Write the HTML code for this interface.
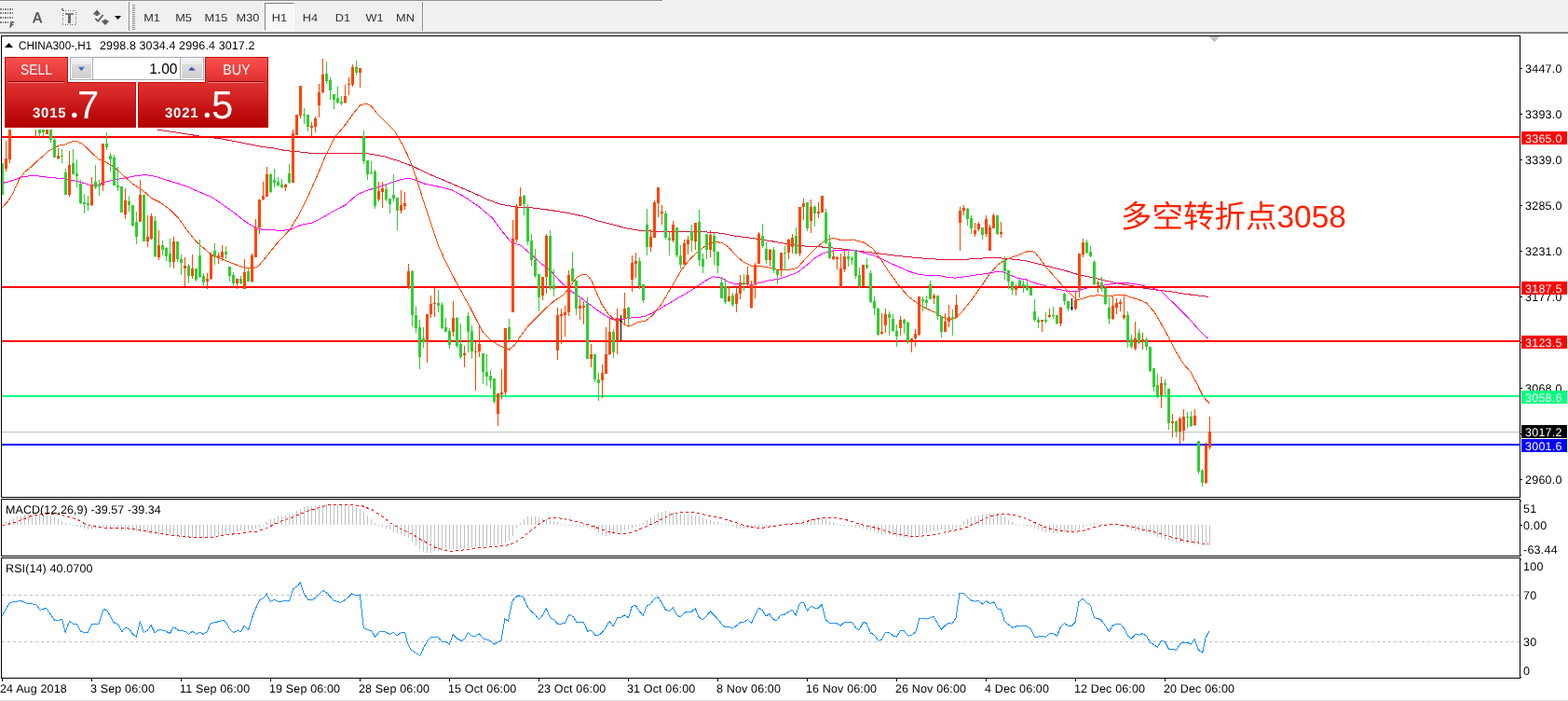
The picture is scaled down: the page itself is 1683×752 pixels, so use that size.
<!DOCTYPE html>
<html><head><meta charset="utf-8"><title>chart</title>
<style>
html,body{margin:0;padding:0;background:#fff;}
body{width:1683px;height:752px;position:relative;overflow:hidden;font-family:"Liberation Sans",sans-serif;text-rendering:geometricPrecision;}
#ch{position:absolute;left:0;top:0;}
.t{position:absolute;font-size:12.5px;line-height:14px;height:14px;color:#000;white-space:nowrap;}
.pl{position:absolute;left:1633px;width:49px;height:14px;font-size:12.5px;line-height:16px;color:#fff;text-indent:4px;letter-spacing:.25px;white-space:nowrap;overflow:hidden;}
#tb{position:absolute;left:0;top:0;width:1683px;height:33px;background:#f0f0f0;}
.tf{will-change:transform;position:absolute;top:13px;width:40px;text-align:center;font-size:11.7px;line-height:14px;color:#303030;transform:scaleX(1.09);}
#h1{position:absolute;left:284px;top:3px;width:30px;height:28px;border:1px solid #fff;border-top-color:#828282;border-left-color:#828282;background:#f8f8f8;}

.tab{position:absolute;top:0;height:28px;text-align:center;color:#fff;font-size:15.5px;line-height:30px;}
.tab span{display:inline-block;}
.box{position:absolute;top:27px;height:49px;color:#fff;}
.box b{position:absolute;top:26px;font-size:15px;line-height:15px;font-weight:bold;letter-spacing:.75px;}
.box u{position:absolute;top:3.5px;font-size:42px;line-height:42px;text-decoration:none;}
#spin{position:absolute;left:70px;top:0;width:142px;height:23px;border:1px solid #a3a8b4;background:#fff;box-sizing:content-box;}
#spin i{position:absolute;top:0;width:1px;height:23px;background:#a3a8b4;}
.sb{position:absolute;top:1px;width:21px;height:21px;background:linear-gradient(#f3f3f3,#ebebeb 28%,#dddddd 29%,#cfcfcf);}
#vol{position:absolute;right:27.5px;top:4.5px;font-size:15.6px;line-height:16px;color:#000;}

.sep{position:absolute;top:2px;width:1px;height:32px;background:#8a8a8a;box-shadow:1px 0 0 #fafafa;}
</style></head><body>
<div id="tb">
<div style="position:absolute;left:0;top:0;width:712px;height:2px;background:#fcfcfc"></div><div style="position:absolute;left:0;top:0;width:711px;height:1px;background:#8e8e8e"></div>
<div class="sep" style="left:138px"></div><div class="sep" style="left:453px"></div>
<div id="h1"></div>
<div class="tf" style="left:143px">M1</div><div class="tf" style="left:177px">M5</div><div class="tf" style="left:211.7px">M15</div><div class="tf" style="left:245.5px">M30</div><div class="tf" style="left:280px">H1</div><div class="tf" style="left:313px">H4</div><div class="tf" style="left:348px">D1</div><div class="tf" style="left:382.4px">W1</div><div class="tf" style="left:415.2px">MN</div>

<svg style="position:absolute;left:0;top:0" width="140" height="33" shape-rendering="crispEdges">
 <g stroke="#808080" stroke-width="2" stroke-dasharray="2 1 1 1">
  <line x1="0" x2="14" y1="10" y2="10"/><line x1="0" x2="14" y1="14" y2="14"/><line x1="0" x2="14" y1="19" y2="19"/><line x1="0" x2="9" y1="24" y2="24"/>
 </g>
 <g stroke="#6a6a6a" stroke-width="1" stroke-dasharray="1 1.5" fill="none"><rect x="67.5" y="11.5" width="14" height="15"/></g>
 <g fill="#6e6e6e">
  <rect x="66" y="9" width="2" height="2"/>
  <rect x="70" y="14" width="9" height="2" fill="#808080"/><rect x="73" y="15" width="3" height="10"/>
 </g>
 <g shape-rendering="auto" fill="#585858">
  <path d="M10.3,29.6 L11.4,23 L15.3,23 L15,24.6 L13,24.6 L12.8,25.8 L14.6,25.8 L14.3,27.3 L12.5,27.3 L12.1,29.6 Z"/>
  <path d="M34.9,24.6 L39.1,12.9 L41.3,12.9 L45.4,24.6 L43.2,24.6 L42.3,21.8 L38,21.8 L37.1,24.6 Z M38.6,20 L41.7,20 L40.2,15.2 Z" fill-rule="evenodd"/>
  <polygon points="99.7,15.6 104,10.4 108.2,15.6"/><rect x="102.5" y="15.4" width="3" height="1.6"/>
  <polygon points="108.5,22.3 112.9,26.9 117.3,22.3"/><rect x="111.3" y="20.8" width="3.2" height="1.7"/>
  <path d="M102.3,19.9 L105.2,22.8 L110.6,15.9" fill="none" stroke="#585858" stroke-width="1.7"/>
  <polygon points="123,17.1 130.1,17.1 126.55,20.9" fill="#000"/>
 </g>
</svg>
<svg style="position:absolute;left:141px;top:4px" width="5" height="29" shape-rendering="crispEdges"><g fill="#8e8e8e"><rect x="1" y="1" width="3" height="1"/><rect x="1" y="3" width="3" height="1"/><rect x="1" y="5" width="3" height="1"/><rect x="1" y="7" width="3" height="1"/><rect x="1" y="9" width="3" height="1"/><rect x="1" y="11" width="3" height="1"/><rect x="1" y="13" width="3" height="1"/><rect x="1" y="15" width="3" height="1"/><rect x="1" y="17" width="3" height="1"/><rect x="1" y="19" width="3" height="1"/><rect x="1" y="21" width="3" height="1"/><rect x="1" y="23" width="3" height="1"/><rect x="1" y="25" width="3" height="1"/><rect x="1" y="27" width="3" height="1"/></g></svg>

</div>
<div style="position:absolute;left:0;top:33px;width:1683px;height:1px;background:#f6f6f6"></div>
<div style="position:absolute;left:0;top:34px;width:1683px;height:1px;background:#a2a2a2"></div>
<div style="position:absolute;left:0;top:35px;width:1683px;height:1px;background:#696969"></div>
<svg id="ch" width="1683" height="752" viewBox="0 0 1683 752" shape-rendering="crispEdges"><rect x="1" y="38" width="1631" height="1" fill="#000"/>
<rect x="1" y="533" width="1631" height="1" fill="#000"/>
<rect x="1" y="38" width="1" height="496" fill="#000"/>
<rect x="1631" y="38" width="1" height="496" fill="#000"/>
<rect x="1" y="535" width="1631" height="1" fill="#000"/>
<rect x="1" y="596" width="1631" height="1" fill="#000"/>
<rect x="1" y="535" width="1" height="62" fill="#000"/>
<rect x="1631" y="535" width="1" height="62" fill="#000"/>
<rect x="1" y="598" width="1631" height="1" fill="#000"/>
<rect x="1" y="727" width="1631" height="1" fill="#000"/>
<rect x="1" y="598" width="1" height="130" fill="#000"/>
<rect x="1631" y="598" width="1" height="130" fill="#000"/>
<rect x="2" y="463" width="1629" height="1" fill="#c0c0c0"/>
<polyline points="168.8,139.1 191.5,142.4 215.4,146.3 239.4,149.2 263.3,153.9 280.0,157.3 294.4,159.0 306.3,161.6 320.7,162.8 335.1,164.5 351.8,164.5 375.8,164.5 380.0,164.4 394.4,164.8 411.1,167.5 427.9,172.7 442.2,178.0 461.4,187.1 475.8,193.1 492.5,200.3 509.3,207.5 523.6,214.2 538.0,219.4 552.4,221.8 571.5,223.0 590.7,225.4 609.8,228.5 629.0,232.6 643.3,237.4 657.7,241.0 674.4,245.3 688.8,247.7 700.8,248.1 727.1,248.1 753.4,248.6 760.0,249.1 774.4,250.3 788.7,253.1 807.9,255.5 827.0,258.6 846.2,261.8 865.3,264.2 884.5,265.1 903.6,267.0 922.8,269.4 941.9,271.8 961.1,274.2 980.2,276.1 999.4,277.8 1013.7,278.5 1025.7,279.0 1042.5,277.8 1061.6,276.6 1078.4,277.1 1095.1,279.0 1100.0,279.5 1114.4,283.1 1128.7,286.7 1143.1,290.3 1157.5,294.6 1171.8,297.5 1186.2,301.0 1200.5,304.2 1214.9,306.5 1229.3,309.4 1243.6,311.3 1258.0,313.0 1272.4,315.4 1286.7,317.1 1297.5,318.5" fill="none" stroke="#dc143c" stroke-width="1" />
<polyline points="2.4,196.5 12.0,194.2 23.9,189.8 35.9,188.2 47.9,189.8 59.8,191.0 71.8,192.2 83.8,194.6 95.8,198.2 105.3,198.2 114.9,194.6 124.5,192.7 134.1,191.0 143.6,189.1 155.6,187.5 167.6,189.4 179.5,193.4 191.5,197.0 203.5,201.3 215.4,206.6 227.4,211.4 239.4,219.8 251.3,228.1 263.3,237.7 272.9,243.7 282.5,246.6 292.0,246.8 301.6,247.3 311.2,246.6 323.2,241.3 335.1,238.9 347.1,232.9 359.1,225.8 371.0,219.8 383.0,209.0 392.6,204.7 403.9,201.5 418.3,196.7 430.3,192.6 439.8,191.2 447.0,193.6 456.6,197.4 471.0,200.3 485.3,203.9 499.7,211.8 514.1,221.8 528.4,233.8 538.0,246.9 547.6,258.9 559.5,263.7 569.1,272.1 581.1,282.9 591.8,291.2 602.6,303.2 613.4,312.7 624.2,319.9 633.7,327.1 643.3,334.3 652.9,340.3 658.9,343.1 667.3,342.7 679.2,340.7 691.2,339.8 700.8,335.5 715.1,327.1 729.5,318.7 743.9,310.3 755.8,302.0 765.4,296.7 775.0,298.4 781.5,302.5 788.7,304.6 798.3,304.6 807.9,305.3 817.5,302.9 827.0,300.5 836.6,299.3 846.2,295.8 855.8,292.2 865.3,285.0 874.9,276.6 884.5,271.3 894.1,268.9 903.6,268.2 915.6,268.2 927.6,271.3 937.1,273.7 946.7,277.8 956.3,282.6 965.9,286.7 975.4,291.0 985.0,294.1 994.6,295.3 1009.0,295.8 1018.5,297.7 1025.7,298.1 1035.3,296.9 1047.3,295.0 1059.2,293.4 1068.8,291.7 1076.0,291.4 1083.2,294.6 1092.7,298.6 1100.0,299.4 1109.6,303.4 1121.5,306.5 1133.5,309.9 1145.5,312.3 1155.1,313.0 1164.6,309.4 1176.6,307.5 1186.2,305.8 1195.8,304.2 1205.3,303.4 1214.9,304.2 1224.5,305.8 1234.1,308.2 1246.0,311.8 1255.6,321.4 1267.6,332.9 1277.1,342.9 1286.7,353.7 1293.9,360.9 1297.5,363.3" fill="none" stroke="#ff00ff" stroke-width="1" />
<polyline points="1.3,223.7 8.0,216.4 13.3,208.4 19.9,193.8 26.6,184.5 33.2,179.2 39.9,172.8 46.5,167.2 51.9,162.2 59.8,157.7 65.2,155.5 70.5,155.0 74.5,152.9 78.4,151.3 82.4,151.9 87.8,153.9 93.1,158.6 99.7,165.2 106.4,171.2 111.7,172.8 117.0,175.9 122.3,179.2 127.6,183.8 133.0,189.2 134.1,189.8 143.6,198.2 153.2,204.2 162.8,212.6 172.4,217.4 181.9,224.6 191.5,234.1 201.1,247.3 210.7,259.3 220.2,267.6 227.4,273.6 239.4,278.4 251.3,283.2 263.3,287.5 271.7,288.0 277.7,285.1 287.3,273.6 296.8,261.7 311.2,246.1 320.8,230.5 330.3,211.4 339.9,189.8 349.5,167.1 359.0,147.7 371.0,133.4 380.5,120.2 386.5,113.0 393.7,111.1 398.5,113.7 404.5,121.4 414.1,131.0 423.6,140.5 433.2,157.3 440.4,172.9 447.6,193.2 455.9,220.0 461.4,236.2 471.0,264.9 480.5,285.2 492.5,308.0 504.5,329.5 511.7,343.9 518.8,357.0 526.0,364.2 533.2,369.0 540.4,372.6 546.4,375.0 552.4,370.2 559.5,359.4 566.7,349.8 576.3,340.3 585.9,330.7 595.4,322.3 605.0,316.3 613.4,305.6 619.4,297.2 625.4,294.1 630.1,294.8 634.9,300.8 639.7,312.7 645.7,325.9 652.9,336.7 658.9,342.2 666.1,343.9 670.8,348.6 674.4,350.3 679.2,348.6 685.2,345.5 693.6,343.9 700.8,337.9 710.3,325.9 719.9,309.2 727.1,297.2 731.9,288.8 741.5,276.9 751.0,268.5 760.6,261.3 767.8,259.4 775.0,260.6 781.5,264.6 788.7,273.0 798.3,281.4 807.9,285.7 817.5,285.7 827.0,287.4 836.6,289.8 846.2,289.8 855.8,287.4 865.3,276.6 874.9,267.0 884.5,258.6 894.1,255.1 903.6,257.9 915.6,257.0 927.6,260.3 937.1,267.0 946.7,280.2 956.3,294.6 965.9,307.7 975.4,318.5 985.0,325.7 994.6,331.2 1004.2,335.2 1011.3,340.0 1018.5,343.1 1025.7,341.2 1032.9,334.1 1042.5,322.1 1052.0,308.9 1061.6,294.6 1071.2,283.8 1078.4,279.0 1087.9,275.4 1097.5,271.8 1100.0,270.6 1106.0,269.2 1110.8,270.6 1116.8,278.3 1123.9,287.9 1133.5,298.6 1143.1,309.4 1150.3,316.6 1156.3,321.9 1162.2,320.2 1169.4,317.8 1179.0,316.6 1188.6,317.8 1198.1,316.6 1206.5,316.1 1212.5,318.5 1222.1,321.4 1230.5,325.0 1238.8,334.6 1246.0,346.5 1253.2,359.7 1260.4,374.1 1267.6,386.0 1270.0,390.0 1277.7,398.6 1284.4,411.1 1290.1,422.6 1293.9,428.3 1297.8,432.5" fill="none" stroke="#ff4500" stroke-width="1" />
<rect x="2" y="146" width="1629" height="2" fill="#ff0000"/>
<rect x="2" y="307" width="1629" height="2" fill="#ff0000"/>
<rect x="2" y="365" width="1629" height="2" fill="#ff0000"/>
<rect x="2" y="424" width="1629" height="2" fill="#00ff7f"/>
<rect x="2" y="476" width="1629" height="2" fill="#0000ff"/>
<rect x="2" y="175" width="1" height="34" fill="#32cd32"/>
<rect x="1" y="175" width="3" height="34" fill="#32cd32"/>
<rect x="6" y="151" width="1" height="33" fill="#ff4500"/>
<rect x="5" y="170" width="3" height="11" fill="#ff4500"/>
<rect x="10" y="137" width="1" height="38" fill="#ff4500"/>
<rect x="9" y="137" width="3" height="34" fill="#ff4500"/>
<rect x="38" y="139" width="1" height="8" fill="#ff4500"/>
<rect x="42" y="139" width="1" height="8" fill="#32cd32"/>
<rect x="41" y="139" width="3" height="4" fill="#32cd32"/>
<rect x="46" y="139" width="1" height="7" fill="#32cd32"/>
<rect x="45" y="139" width="3" height="3" fill="#32cd32"/>
<rect x="50" y="139" width="1" height="5" fill="#ff4500"/>
<rect x="49" y="139" width="3" height="5" fill="#ff4500"/>
<rect x="54" y="139" width="1" height="14" fill="#32cd32"/>
<rect x="53" y="139" width="3" height="11" fill="#32cd32"/>
<rect x="58" y="147" width="1" height="22" fill="#32cd32"/>
<rect x="57" y="150" width="3" height="19" fill="#32cd32"/>
<rect x="62" y="159" width="1" height="12" fill="#ff4500"/>
<rect x="61" y="167" width="3" height="3" fill="#ff4500"/>
<rect x="66" y="160" width="1" height="15" fill="#32cd32"/>
<rect x="65" y="167" width="3" height="1" fill="#32cd32"/>
<rect x="70" y="181" width="1" height="28" fill="#32cd32"/>
<rect x="69" y="185" width="3" height="24" fill="#32cd32"/>
<rect x="74" y="162" width="1" height="49" fill="#ff4500"/>
<rect x="73" y="177" width="3" height="32" fill="#ff4500"/>
<rect x="78" y="160" width="1" height="27" fill="#32cd32"/>
<rect x="77" y="175" width="3" height="12" fill="#32cd32"/>
<rect x="82" y="171" width="1" height="30" fill="#32cd32"/>
<rect x="81" y="186" width="3" height="3" fill="#32cd32"/>
<rect x="86" y="193" width="1" height="26" fill="#32cd32"/>
<rect x="85" y="197" width="3" height="21" fill="#32cd32"/>
<rect x="90" y="208" width="1" height="21" fill="#32cd32"/>
<rect x="89" y="217" width="3" height="2" fill="#32cd32"/>
<rect x="94" y="210" width="1" height="16" fill="#32cd32"/>
<rect x="93" y="218" width="3" height="2" fill="#32cd32"/>
<rect x="98" y="190" width="1" height="31" fill="#ff4500"/>
<rect x="97" y="198" width="3" height="22" fill="#ff4500"/>
<rect x="102" y="177" width="1" height="26" fill="#32cd32"/>
<rect x="101" y="195" width="3" height="6" fill="#32cd32"/>
<rect x="106" y="193" width="1" height="17" fill="#32cd32"/>
<rect x="105" y="198" width="3" height="2" fill="#32cd32"/>
<rect x="110" y="154" width="1" height="51" fill="#ff4500"/>
<rect x="109" y="154" width="3" height="45" fill="#ff4500"/>
<rect x="114" y="142" width="1" height="19" fill="#32cd32"/>
<rect x="113" y="154" width="3" height="4" fill="#32cd32"/>
<rect x="118" y="164" width="1" height="20" fill="#32cd32"/>
<rect x="117" y="167" width="3" height="4" fill="#32cd32"/>
<rect x="122" y="166" width="1" height="33" fill="#32cd32"/>
<rect x="121" y="169" width="3" height="30" fill="#32cd32"/>
<rect x="126" y="179" width="1" height="26" fill="#32cd32"/>
<rect x="125" y="199" width="3" height="2" fill="#32cd32"/>
<rect x="130" y="200" width="1" height="28" fill="#32cd32"/>
<rect x="129" y="200" width="3" height="28" fill="#32cd32"/>
<rect x="134" y="202" width="1" height="33" fill="#ff4500"/>
<rect x="133" y="215" width="3" height="15" fill="#ff4500"/>
<rect x="138" y="210" width="1" height="17" fill="#32cd32"/>
<rect x="137" y="216" width="3" height="4" fill="#32cd32"/>
<rect x="142" y="220" width="1" height="23" fill="#32cd32"/>
<rect x="141" y="220" width="3" height="22" fill="#32cd32"/>
<rect x="146" y="227" width="1" height="35" fill="#32cd32"/>
<rect x="145" y="238" width="3" height="16" fill="#32cd32"/>
<rect x="150" y="193" width="1" height="45" fill="#ff4500"/>
<rect x="149" y="209" width="3" height="29" fill="#ff4500"/>
<rect x="154" y="209" width="1" height="50" fill="#32cd32"/>
<rect x="153" y="209" width="3" height="50" fill="#32cd32"/>
<rect x="158" y="231" width="1" height="34" fill="#ff4500"/>
<rect x="157" y="254" width="3" height="5" fill="#ff4500"/>
<rect x="162" y="229" width="1" height="28" fill="#ff4500"/>
<rect x="161" y="232" width="3" height="24" fill="#ff4500"/>
<rect x="166" y="232" width="1" height="44" fill="#32cd32"/>
<rect x="165" y="237" width="3" height="38" fill="#32cd32"/>
<rect x="170" y="247" width="1" height="32" fill="#ff4500"/>
<rect x="169" y="263" width="3" height="13" fill="#ff4500"/>
<rect x="174" y="258" width="1" height="16" fill="#32cd32"/>
<rect x="173" y="263" width="3" height="5" fill="#32cd32"/>
<rect x="178" y="265" width="1" height="15" fill="#32cd32"/>
<rect x="177" y="266" width="3" height="9" fill="#32cd32"/>
<rect x="182" y="256" width="1" height="31" fill="#32cd32"/>
<rect x="181" y="272" width="3" height="9" fill="#32cd32"/>
<rect x="186" y="254" width="1" height="34" fill="#ff4500"/>
<rect x="185" y="259" width="3" height="22" fill="#ff4500"/>
<rect x="190" y="259" width="1" height="22" fill="#32cd32"/>
<rect x="189" y="259" width="3" height="19" fill="#32cd32"/>
<rect x="194" y="273" width="1" height="22" fill="#32cd32"/>
<rect x="193" y="278" width="3" height="4" fill="#32cd32"/>
<rect x="198" y="276" width="1" height="31" fill="#ff4500"/>
<rect x="197" y="285" width="3" height="3" fill="#ff4500"/>
<rect x="202" y="283" width="1" height="21" fill="#32cd32"/>
<rect x="201" y="285" width="3" height="11" fill="#32cd32"/>
<rect x="206" y="273" width="1" height="26" fill="#ff4500"/>
<rect x="205" y="288" width="3" height="8" fill="#ff4500"/>
<rect x="210" y="288" width="1" height="14" fill="#32cd32"/>
<rect x="209" y="288" width="3" height="12" fill="#32cd32"/>
<rect x="214" y="257" width="1" height="41" fill="#32cd32"/>
<rect x="213" y="274" width="3" height="23" fill="#32cd32"/>
<rect x="218" y="293" width="1" height="15" fill="#32cd32"/>
<rect x="217" y="296" width="3" height="7" fill="#32cd32"/>
<rect x="222" y="293" width="1" height="17" fill="#ff4500"/>
<rect x="221" y="299" width="3" height="3" fill="#ff4500"/>
<rect x="226" y="271" width="1" height="29" fill="#ff4500"/>
<rect x="225" y="273" width="3" height="26" fill="#ff4500"/>
<rect x="230" y="261" width="1" height="23" fill="#32cd32"/>
<rect x="229" y="269" width="3" height="7" fill="#32cd32"/>
<rect x="234" y="271" width="1" height="12" fill="#ff4500"/>
<rect x="233" y="274" width="3" height="3" fill="#ff4500"/>
<rect x="238" y="263" width="1" height="17" fill="#ff4500"/>
<rect x="237" y="270" width="3" height="6" fill="#ff4500"/>
<rect x="242" y="264" width="1" height="14" fill="#32cd32"/>
<rect x="241" y="270" width="3" height="3" fill="#32cd32"/>
<rect x="246" y="286" width="1" height="16" fill="#32cd32"/>
<rect x="245" y="286" width="3" height="10" fill="#32cd32"/>
<rect x="250" y="292" width="1" height="16" fill="#32cd32"/>
<rect x="249" y="295" width="3" height="9" fill="#32cd32"/>
<rect x="254" y="299" width="1" height="11" fill="#ff4500"/>
<rect x="253" y="299" width="3" height="5" fill="#ff4500"/>
<rect x="258" y="296" width="1" height="9" fill="#32cd32"/>
<rect x="257" y="299" width="3" height="5" fill="#32cd32"/>
<rect x="262" y="278" width="1" height="32" fill="#ff4500"/>
<rect x="261" y="292" width="3" height="18" fill="#ff4500"/>
<rect x="266" y="287" width="1" height="15" fill="#32cd32"/>
<rect x="265" y="291" width="3" height="11" fill="#32cd32"/>
<rect x="270" y="272" width="1" height="31" fill="#ff4500"/>
<rect x="269" y="274" width="3" height="28" fill="#ff4500"/>
<rect x="274" y="235" width="1" height="41" fill="#ff4500"/>
<rect x="273" y="244" width="3" height="32" fill="#ff4500"/>
<rect x="278" y="214" width="1" height="37" fill="#ff4500"/>
<rect x="277" y="214" width="3" height="30" fill="#ff4500"/>
<rect x="282" y="195" width="1" height="20" fill="#ff4500"/>
<rect x="281" y="210" width="3" height="4" fill="#ff4500"/>
<rect x="286" y="179" width="1" height="32" fill="#ff4500"/>
<rect x="285" y="187" width="3" height="24" fill="#ff4500"/>
<rect x="290" y="186" width="1" height="21" fill="#32cd32"/>
<rect x="289" y="187" width="3" height="19" fill="#32cd32"/>
<rect x="294" y="181" width="1" height="20" fill="#32cd32"/>
<rect x="293" y="193" width="3" height="3" fill="#32cd32"/>
<rect x="298" y="190" width="1" height="10" fill="#32cd32"/>
<rect x="297" y="195" width="3" height="4" fill="#32cd32"/>
<rect x="302" y="192" width="1" height="10" fill="#32cd32"/>
<rect x="301" y="198" width="3" height="3" fill="#32cd32"/>
<rect x="306" y="197" width="1" height="8" fill="#ff4500"/>
<rect x="305" y="198" width="3" height="3" fill="#ff4500"/>
<rect x="310" y="176" width="1" height="21" fill="#32cd32"/>
<rect x="309" y="186" width="3" height="10" fill="#32cd32"/>
<rect x="314" y="139" width="1" height="57" fill="#ff4500"/>
<rect x="313" y="143" width="3" height="53" fill="#ff4500"/>
<rect x="318" y="123" width="1" height="22" fill="#ff4500"/>
<rect x="317" y="123" width="3" height="22" fill="#ff4500"/>
<rect x="322" y="92" width="1" height="35" fill="#ff4500"/>
<rect x="321" y="92" width="3" height="32" fill="#ff4500"/>
<rect x="326" y="116" width="1" height="17" fill="#32cd32"/>
<rect x="325" y="123" width="3" height="1" fill="#32cd32"/>
<rect x="330" y="123" width="1" height="18" fill="#32cd32"/>
<rect x="329" y="123" width="3" height="13" fill="#32cd32"/>
<rect x="334" y="131" width="1" height="16" fill="#ff4500"/>
<rect x="333" y="135" width="3" height="2" fill="#ff4500"/>
<rect x="338" y="125" width="1" height="17" fill="#ff4500"/>
<rect x="337" y="127" width="3" height="9" fill="#ff4500"/>
<rect x="342" y="90" width="1" height="36" fill="#ff4500"/>
<rect x="341" y="99" width="3" height="14" fill="#ff4500"/>
<rect x="346" y="63" width="1" height="37" fill="#ff4500"/>
<rect x="345" y="80" width="3" height="19" fill="#ff4500"/>
<rect x="350" y="66" width="1" height="24" fill="#32cd32"/>
<rect x="349" y="79" width="3" height="8" fill="#32cd32"/>
<rect x="354" y="83" width="1" height="24" fill="#32cd32"/>
<rect x="353" y="86" width="3" height="11" fill="#32cd32"/>
<rect x="358" y="101" width="1" height="16" fill="#32cd32"/>
<rect x="357" y="101" width="3" height="6" fill="#32cd32"/>
<rect x="362" y="93" width="1" height="18" fill="#32cd32"/>
<rect x="361" y="105" width="3" height="5" fill="#32cd32"/>
<rect x="366" y="103" width="1" height="10" fill="#32cd32"/>
<rect x="365" y="109" width="3" height="2" fill="#32cd32"/>
<rect x="370" y="91" width="1" height="20" fill="#ff4500"/>
<rect x="369" y="103" width="3" height="7" fill="#ff4500"/>
<rect x="374" y="83" width="1" height="19" fill="#ff4500"/>
<rect x="373" y="90" width="3" height="1" fill="#ff4500"/>
<rect x="378" y="69" width="1" height="24" fill="#ff4500"/>
<rect x="377" y="72" width="3" height="19" fill="#ff4500"/>
<rect x="382" y="65" width="1" height="16" fill="#32cd32"/>
<rect x="381" y="72" width="3" height="6" fill="#32cd32"/>
<rect x="386" y="73" width="1" height="21" fill="#ff4500"/>
<rect x="385" y="73" width="3" height="5" fill="#ff4500"/>
<rect x="390" y="140" width="1" height="36" fill="#32cd32"/>
<rect x="389" y="146" width="3" height="27" fill="#32cd32"/>
<rect x="394" y="172" width="1" height="21" fill="#32cd32"/>
<rect x="393" y="172" width="3" height="15" fill="#32cd32"/>
<rect x="398" y="173" width="1" height="14" fill="#32cd32"/>
<rect x="397" y="185" width="3" height="1" fill="#32cd32"/>
<rect x="402" y="182" width="1" height="42" fill="#32cd32"/>
<rect x="401" y="184" width="3" height="37" fill="#32cd32"/>
<rect x="406" y="195" width="1" height="21" fill="#ff4500"/>
<rect x="405" y="205" width="3" height="9" fill="#ff4500"/>
<rect x="410" y="195" width="1" height="28" fill="#ff4500"/>
<rect x="409" y="202" width="3" height="4" fill="#ff4500"/>
<rect x="414" y="197" width="1" height="19" fill="#32cd32"/>
<rect x="413" y="203" width="3" height="11" fill="#32cd32"/>
<rect x="418" y="213" width="1" height="16" fill="#32cd32"/>
<rect x="417" y="213" width="3" height="6" fill="#32cd32"/>
<rect x="422" y="187" width="1" height="29" fill="#32cd32"/>
<rect x="421" y="209" width="3" height="4" fill="#32cd32"/>
<rect x="426" y="212" width="1" height="35" fill="#32cd32"/>
<rect x="425" y="212" width="3" height="14" fill="#32cd32"/>
<rect x="430" y="204" width="1" height="25" fill="#ff4500"/>
<rect x="429" y="220" width="3" height="6" fill="#ff4500"/>
<rect x="434" y="206" width="1" height="19" fill="#ff4500"/>
<rect x="433" y="218" width="3" height="3" fill="#ff4500"/>
<rect x="438" y="283" width="1" height="27" fill="#ff4500"/>
<rect x="437" y="291" width="3" height="18" fill="#ff4500"/>
<rect x="442" y="290" width="1" height="60" fill="#32cd32"/>
<rect x="441" y="291" width="3" height="47" fill="#32cd32"/>
<rect x="446" y="329" width="1" height="28" fill="#32cd32"/>
<rect x="445" y="338" width="3" height="14" fill="#32cd32"/>
<rect x="450" y="343" width="1" height="53" fill="#32cd32"/>
<rect x="449" y="351" width="3" height="32" fill="#32cd32"/>
<rect x="454" y="351" width="1" height="22" fill="#32cd32"/>
<rect x="453" y="363" width="3" height="4" fill="#32cd32"/>
<rect x="458" y="337" width="1" height="52" fill="#ff4500"/>
<rect x="457" y="337" width="3" height="30" fill="#ff4500"/>
<rect x="462" y="317" width="1" height="24" fill="#ff4500"/>
<rect x="461" y="326" width="3" height="11" fill="#ff4500"/>
<rect x="466" y="309" width="1" height="31" fill="#ff4500"/>
<rect x="465" y="325" width="3" height="1" fill="#ff4500"/>
<rect x="470" y="311" width="1" height="24" fill="#32cd32"/>
<rect x="469" y="325" width="3" height="3" fill="#32cd32"/>
<rect x="474" y="324" width="1" height="29" fill="#32cd32"/>
<rect x="473" y="327" width="3" height="25" fill="#32cd32"/>
<rect x="478" y="341" width="1" height="15" fill="#32cd32"/>
<rect x="477" y="351" width="3" height="5" fill="#32cd32"/>
<rect x="482" y="352" width="1" height="22" fill="#32cd32"/>
<rect x="481" y="355" width="3" height="15" fill="#32cd32"/>
<rect x="486" y="323" width="1" height="38" fill="#ff4500"/>
<rect x="485" y="341" width="3" height="15" fill="#ff4500"/>
<rect x="490" y="340" width="1" height="33" fill="#32cd32"/>
<rect x="489" y="341" width="3" height="30" fill="#32cd32"/>
<rect x="494" y="347" width="1" height="38" fill="#32cd32"/>
<rect x="493" y="369" width="3" height="14" fill="#32cd32"/>
<rect x="498" y="371" width="1" height="23" fill="#ff4500"/>
<rect x="497" y="379" width="3" height="2" fill="#ff4500"/>
<rect x="502" y="335" width="1" height="43" fill="#32cd32"/>
<rect x="501" y="339" width="3" height="17" fill="#32cd32"/>
<rect x="506" y="349" width="1" height="36" fill="#32cd32"/>
<rect x="505" y="355" width="3" height="22" fill="#32cd32"/>
<rect x="510" y="367" width="1" height="52" fill="#ff4500"/>
<rect x="509" y="377" width="3" height="1" fill="#ff4500"/>
<rect x="514" y="350" width="1" height="33" fill="#ff4500"/>
<rect x="513" y="369" width="3" height="8" fill="#ff4500"/>
<rect x="518" y="379" width="1" height="33" fill="#32cd32"/>
<rect x="517" y="379" width="3" height="20" fill="#32cd32"/>
<rect x="522" y="380" width="1" height="34" fill="#32cd32"/>
<rect x="521" y="399" width="3" height="5" fill="#32cd32"/>
<rect x="526" y="397" width="1" height="20" fill="#32cd32"/>
<rect x="525" y="403" width="3" height="5" fill="#32cd32"/>
<rect x="530" y="406" width="1" height="27" fill="#32cd32"/>
<rect x="529" y="406" width="3" height="25" fill="#32cd32"/>
<rect x="534" y="422" width="1" height="35" fill="#ff4500"/>
<rect x="533" y="422" width="3" height="22" fill="#ff4500"/>
<rect x="538" y="396" width="1" height="32" fill="#ff4500"/>
<rect x="537" y="421" width="3" height="2" fill="#ff4500"/>
<rect x="542" y="352" width="1" height="72" fill="#ff4500"/>
<rect x="541" y="352" width="3" height="69" fill="#ff4500"/>
<rect x="546" y="342" width="1" height="23" fill="#32cd32"/>
<rect x="545" y="351" width="3" height="13" fill="#32cd32"/>
<rect x="550" y="236" width="1" height="99" fill="#ff4500"/>
<rect x="549" y="256" width="3" height="79" fill="#ff4500"/>
<rect x="554" y="219" width="1" height="41" fill="#ff4500"/>
<rect x="553" y="221" width="3" height="36" fill="#ff4500"/>
<rect x="558" y="201" width="1" height="20" fill="#ff4500"/>
<rect x="557" y="211" width="3" height="10" fill="#ff4500"/>
<rect x="562" y="209" width="1" height="22" fill="#32cd32"/>
<rect x="561" y="210" width="3" height="9" fill="#32cd32"/>
<rect x="566" y="219" width="1" height="44" fill="#32cd32"/>
<rect x="565" y="223" width="3" height="36" fill="#32cd32"/>
<rect x="570" y="251" width="1" height="34" fill="#32cd32"/>
<rect x="569" y="258" width="3" height="21" fill="#32cd32"/>
<rect x="574" y="267" width="1" height="31" fill="#32cd32"/>
<rect x="573" y="279" width="3" height="17" fill="#32cd32"/>
<rect x="578" y="294" width="1" height="40" fill="#32cd32"/>
<rect x="577" y="294" width="3" height="25" fill="#32cd32"/>
<rect x="582" y="297" width="1" height="25" fill="#ff4500"/>
<rect x="581" y="297" width="3" height="20" fill="#ff4500"/>
<rect x="586" y="251" width="1" height="64" fill="#ff4500"/>
<rect x="585" y="253" width="3" height="44" fill="#ff4500"/>
<rect x="590" y="247" width="1" height="64" fill="#32cd32"/>
<rect x="589" y="253" width="3" height="55" fill="#32cd32"/>
<rect x="594" y="289" width="1" height="29" fill="#32cd32"/>
<rect x="593" y="306" width="3" height="4" fill="#32cd32"/>
<rect x="598" y="330" width="1" height="56" fill="#ff4500"/>
<rect x="597" y="338" width="3" height="38" fill="#ff4500"/>
<rect x="602" y="331" width="1" height="38" fill="#ff4500"/>
<rect x="601" y="337" width="3" height="2" fill="#ff4500"/>
<rect x="606" y="328" width="1" height="33" fill="#ff4500"/>
<rect x="605" y="335" width="3" height="3" fill="#ff4500"/>
<rect x="610" y="290" width="1" height="49" fill="#ff4500"/>
<rect x="609" y="295" width="3" height="40" fill="#ff4500"/>
<rect x="614" y="270" width="1" height="32" fill="#32cd32"/>
<rect x="613" y="288" width="3" height="14" fill="#32cd32"/>
<rect x="618" y="301" width="1" height="37" fill="#32cd32"/>
<rect x="617" y="301" width="3" height="30" fill="#32cd32"/>
<rect x="622" y="320" width="1" height="23" fill="#ff4500"/>
<rect x="621" y="328" width="3" height="3" fill="#ff4500"/>
<rect x="626" y="323" width="1" height="25" fill="#ff4500"/>
<rect x="625" y="328" width="3" height="2" fill="#ff4500"/>
<rect x="630" y="319" width="1" height="66" fill="#32cd32"/>
<rect x="629" y="326" width="3" height="59" fill="#32cd32"/>
<rect x="634" y="369" width="1" height="25" fill="#ff4500"/>
<rect x="633" y="380" width="3" height="5" fill="#ff4500"/>
<rect x="638" y="380" width="1" height="30" fill="#32cd32"/>
<rect x="637" y="380" width="3" height="27" fill="#32cd32"/>
<rect x="642" y="400" width="1" height="30" fill="#32cd32"/>
<rect x="641" y="407" width="3" height="4" fill="#32cd32"/>
<rect x="646" y="391" width="1" height="36" fill="#ff4500"/>
<rect x="645" y="400" width="3" height="8" fill="#ff4500"/>
<rect x="650" y="351" width="1" height="50" fill="#ff4500"/>
<rect x="649" y="380" width="3" height="21" fill="#ff4500"/>
<rect x="654" y="341" width="1" height="40" fill="#ff4500"/>
<rect x="653" y="356" width="3" height="24" fill="#ff4500"/>
<rect x="658" y="353" width="1" height="31" fill="#32cd32"/>
<rect x="657" y="356" width="3" height="22" fill="#32cd32"/>
<rect x="662" y="331" width="1" height="49" fill="#ff4500"/>
<rect x="661" y="341" width="3" height="25" fill="#ff4500"/>
<rect x="666" y="338" width="1" height="27" fill="#000"/>
<rect x="665" y="344" width="3" height="1" fill="#000"/>
<rect x="670" y="314" width="1" height="35" fill="#ff4500"/>
<rect x="669" y="331" width="3" height="11" fill="#ff4500"/>
<rect x="674" y="329" width="1" height="21" fill="#32cd32"/>
<rect x="673" y="330" width="3" height="12" fill="#32cd32"/>
<rect x="678" y="274" width="1" height="39" fill="#ff4500"/>
<rect x="677" y="282" width="3" height="18" fill="#ff4500"/>
<rect x="682" y="271" width="1" height="27" fill="#ff4500"/>
<rect x="681" y="280" width="3" height="3" fill="#ff4500"/>
<rect x="686" y="276" width="1" height="34" fill="#32cd32"/>
<rect x="685" y="280" width="3" height="27" fill="#32cd32"/>
<rect x="690" y="305" width="1" height="20" fill="#32cd32"/>
<rect x="689" y="305" width="3" height="17" fill="#32cd32"/>
<rect x="694" y="224" width="1" height="50" fill="#32cd32"/>
<rect x="693" y="241" width="3" height="24" fill="#32cd32"/>
<rect x="698" y="246" width="1" height="24" fill="#ff4500"/>
<rect x="697" y="254" width="3" height="11" fill="#ff4500"/>
<rect x="702" y="215" width="1" height="40" fill="#ff4500"/>
<rect x="701" y="217" width="3" height="38" fill="#ff4500"/>
<rect x="706" y="201" width="1" height="32" fill="#ff4500"/>
<rect x="705" y="201" width="3" height="17" fill="#ff4500"/>
<rect x="710" y="220" width="1" height="21" fill="#ff4500"/>
<rect x="709" y="227" width="3" height="2" fill="#ff4500"/>
<rect x="714" y="226" width="1" height="31" fill="#32cd32"/>
<rect x="713" y="229" width="3" height="26" fill="#32cd32"/>
<rect x="718" y="249" width="1" height="25" fill="#32cd32"/>
<rect x="717" y="255" width="3" height="3" fill="#32cd32"/>
<rect x="722" y="237" width="1" height="23" fill="#ff4500"/>
<rect x="721" y="241" width="3" height="17" fill="#ff4500"/>
<rect x="726" y="244" width="1" height="32" fill="#32cd32"/>
<rect x="725" y="244" width="3" height="30" fill="#32cd32"/>
<rect x="730" y="263" width="1" height="25" fill="#32cd32"/>
<rect x="729" y="274" width="3" height="10" fill="#32cd32"/>
<rect x="734" y="257" width="1" height="27" fill="#ff4500"/>
<rect x="733" y="261" width="3" height="23" fill="#ff4500"/>
<rect x="738" y="253" width="1" height="20" fill="#ff4500"/>
<rect x="737" y="257" width="3" height="5" fill="#ff4500"/>
<rect x="742" y="241" width="1" height="29" fill="#32cd32"/>
<rect x="741" y="248" width="3" height="10" fill="#32cd32"/>
<rect x="746" y="239" width="1" height="29" fill="#ff4500"/>
<rect x="745" y="239" width="3" height="20" fill="#ff4500"/>
<rect x="750" y="225" width="1" height="60" fill="#32cd32"/>
<rect x="749" y="238" width="3" height="41" fill="#32cd32"/>
<rect x="754" y="272" width="1" height="21" fill="#32cd32"/>
<rect x="753" y="278" width="3" height="8" fill="#32cd32"/>
<rect x="758" y="251" width="1" height="27" fill="#32cd32"/>
<rect x="757" y="251" width="3" height="17" fill="#32cd32"/>
<rect x="762" y="247" width="1" height="29" fill="#ff4500"/>
<rect x="761" y="252" width="3" height="16" fill="#ff4500"/>
<rect x="766" y="250" width="1" height="34" fill="#32cd32"/>
<rect x="765" y="253" width="3" height="17" fill="#32cd32"/>
<rect x="770" y="270" width="1" height="23" fill="#32cd32"/>
<rect x="769" y="270" width="3" height="15" fill="#32cd32"/>
<rect x="774" y="297" width="1" height="23" fill="#32cd32"/>
<rect x="773" y="303" width="3" height="17" fill="#32cd32"/>
<rect x="778" y="299" width="1" height="27" fill="#32cd32"/>
<rect x="777" y="307" width="3" height="17" fill="#32cd32"/>
<rect x="782" y="307" width="1" height="17" fill="#ff4500"/>
<rect x="781" y="318" width="3" height="5" fill="#ff4500"/>
<rect x="786" y="314" width="1" height="15" fill="#32cd32"/>
<rect x="785" y="317" width="3" height="10" fill="#32cd32"/>
<rect x="790" y="309" width="1" height="26" fill="#ff4500"/>
<rect x="789" y="315" width="3" height="11" fill="#ff4500"/>
<rect x="794" y="295" width="1" height="26" fill="#ff4500"/>
<rect x="793" y="303" width="3" height="12" fill="#ff4500"/>
<rect x="798" y="294" width="1" height="18" fill="#32cd32"/>
<rect x="797" y="303" width="3" height="2" fill="#32cd32"/>
<rect x="802" y="286" width="1" height="21" fill="#ff4500"/>
<rect x="801" y="295" width="3" height="10" fill="#ff4500"/>
<rect x="806" y="301" width="1" height="30" fill="#ff4500"/>
<rect x="805" y="306" width="3" height="24" fill="#ff4500"/>
<rect x="810" y="282" width="1" height="38" fill="#ff4500"/>
<rect x="809" y="284" width="3" height="21" fill="#ff4500"/>
<rect x="814" y="249" width="1" height="34" fill="#ff4500"/>
<rect x="813" y="251" width="3" height="32" fill="#ff4500"/>
<rect x="818" y="240" width="1" height="26" fill="#32cd32"/>
<rect x="817" y="253" width="3" height="11" fill="#32cd32"/>
<rect x="822" y="260" width="1" height="23" fill="#32cd32"/>
<rect x="821" y="267" width="3" height="12" fill="#32cd32"/>
<rect x="826" y="267" width="1" height="19" fill="#ff4500"/>
<rect x="825" y="268" width="3" height="11" fill="#ff4500"/>
<rect x="830" y="265" width="1" height="28" fill="#32cd32"/>
<rect x="829" y="268" width="3" height="22" fill="#32cd32"/>
<rect x="834" y="290" width="1" height="15" fill="#32cd32"/>
<rect x="833" y="290" width="3" height="5" fill="#32cd32"/>
<rect x="838" y="271" width="1" height="26" fill="#ff4500"/>
<rect x="837" y="271" width="3" height="19" fill="#ff4500"/>
<rect x="842" y="264" width="1" height="26" fill="#32cd32"/>
<rect x="841" y="271" width="3" height="1" fill="#32cd32"/>
<rect x="846" y="256" width="1" height="22" fill="#ff4500"/>
<rect x="845" y="257" width="3" height="14" fill="#ff4500"/>
<rect x="850" y="251" width="1" height="21" fill="#ff4500"/>
<rect x="849" y="255" width="3" height="10" fill="#ff4500"/>
<rect x="854" y="244" width="1" height="29" fill="#32cd32"/>
<rect x="853" y="253" width="3" height="19" fill="#32cd32"/>
<rect x="858" y="222" width="1" height="53" fill="#ff4500"/>
<rect x="857" y="222" width="3" height="50" fill="#ff4500"/>
<rect x="862" y="213" width="1" height="23" fill="#ff4500"/>
<rect x="861" y="218" width="3" height="4" fill="#ff4500"/>
<rect x="866" y="217" width="1" height="31" fill="#32cd32"/>
<rect x="865" y="217" width="3" height="28" fill="#32cd32"/>
<rect x="870" y="214" width="1" height="36" fill="#ff4500"/>
<rect x="869" y="222" width="3" height="15" fill="#ff4500"/>
<rect x="874" y="220" width="1" height="23" fill="#32cd32"/>
<rect x="873" y="222" width="3" height="7" fill="#32cd32"/>
<rect x="878" y="217" width="1" height="17" fill="#ff4500"/>
<rect x="877" y="227" width="3" height="2" fill="#ff4500"/>
<rect x="882" y="210" width="1" height="18" fill="#ff4500"/>
<rect x="881" y="210" width="3" height="18" fill="#ff4500"/>
<rect x="886" y="224" width="1" height="38" fill="#32cd32"/>
<rect x="885" y="228" width="3" height="33" fill="#32cd32"/>
<rect x="890" y="252" width="1" height="26" fill="#32cd32"/>
<rect x="889" y="260" width="3" height="17" fill="#32cd32"/>
<rect x="894" y="268" width="1" height="11" fill="#ff4500"/>
<rect x="893" y="275" width="3" height="3" fill="#ff4500"/>
<rect x="898" y="275" width="1" height="14" fill="#ff4500"/>
<rect x="897" y="276" width="3" height="2" fill="#ff4500"/>
<rect x="902" y="272" width="1" height="37" fill="#ff4500"/>
<rect x="901" y="288" width="3" height="21" fill="#ff4500"/>
<rect x="906" y="267" width="1" height="25" fill="#ff4500"/>
<rect x="905" y="275" width="3" height="14" fill="#ff4500"/>
<rect x="910" y="267" width="1" height="19" fill="#32cd32"/>
<rect x="909" y="275" width="3" height="3" fill="#32cd32"/>
<rect x="914" y="275" width="1" height="9" fill="#32cd32"/>
<rect x="913" y="277" width="3" height="2" fill="#32cd32"/>
<rect x="918" y="268" width="1" height="31" fill="#32cd32"/>
<rect x="917" y="269" width="3" height="27" fill="#32cd32"/>
<rect x="922" y="287" width="1" height="22" fill="#32cd32"/>
<rect x="921" y="295" width="3" height="12" fill="#32cd32"/>
<rect x="926" y="284" width="1" height="23" fill="#ff4500"/>
<rect x="925" y="284" width="3" height="23" fill="#ff4500"/>
<rect x="930" y="277" width="1" height="12" fill="#32cd32"/>
<rect x="929" y="284" width="3" height="3" fill="#32cd32"/>
<rect x="934" y="290" width="1" height="35" fill="#32cd32"/>
<rect x="933" y="293" width="3" height="31" fill="#32cd32"/>
<rect x="938" y="318" width="1" height="20" fill="#32cd32"/>
<rect x="937" y="323" width="3" height="8" fill="#32cd32"/>
<rect x="942" y="330" width="1" height="30" fill="#32cd32"/>
<rect x="941" y="331" width="3" height="28" fill="#32cd32"/>
<rect x="946" y="336" width="1" height="23" fill="#ff4500"/>
<rect x="945" y="356" width="3" height="2" fill="#ff4500"/>
<rect x="950" y="331" width="1" height="26" fill="#ff4500"/>
<rect x="949" y="337" width="3" height="12" fill="#ff4500"/>
<rect x="954" y="334" width="1" height="26" fill="#32cd32"/>
<rect x="953" y="337" width="3" height="4" fill="#32cd32"/>
<rect x="958" y="337" width="1" height="19" fill="#32cd32"/>
<rect x="957" y="342" width="3" height="13" fill="#32cd32"/>
<rect x="962" y="348" width="1" height="24" fill="#32cd32"/>
<rect x="961" y="355" width="3" height="6" fill="#32cd32"/>
<rect x="966" y="339" width="1" height="21" fill="#ff4500"/>
<rect x="965" y="343" width="3" height="9" fill="#ff4500"/>
<rect x="970" y="342" width="1" height="16" fill="#32cd32"/>
<rect x="969" y="343" width="3" height="4" fill="#32cd32"/>
<rect x="974" y="345" width="1" height="24" fill="#32cd32"/>
<rect x="973" y="346" width="3" height="20" fill="#32cd32"/>
<rect x="978" y="363" width="1" height="15" fill="#ff4500"/>
<rect x="977" y="363" width="3" height="2" fill="#ff4500"/>
<rect x="982" y="353" width="1" height="19" fill="#ff4500"/>
<rect x="981" y="358" width="3" height="5" fill="#ff4500"/>
<rect x="986" y="318" width="1" height="42" fill="#ff4500"/>
<rect x="985" y="318" width="3" height="41" fill="#ff4500"/>
<rect x="990" y="318" width="1" height="16" fill="#32cd32"/>
<rect x="989" y="321" width="3" height="2" fill="#32cd32"/>
<rect x="994" y="317" width="1" height="15" fill="#32cd32"/>
<rect x="993" y="322" width="3" height="3" fill="#32cd32"/>
<rect x="998" y="301" width="1" height="20" fill="#32cd32"/>
<rect x="997" y="305" width="3" height="16" fill="#32cd32"/>
<rect x="1002" y="315" width="1" height="11" fill="#ff4500"/>
<rect x="1001" y="317" width="3" height="3" fill="#ff4500"/>
<rect x="1006" y="317" width="1" height="26" fill="#32cd32"/>
<rect x="1005" y="317" width="3" height="22" fill="#32cd32"/>
<rect x="1010" y="339" width="1" height="23" fill="#32cd32"/>
<rect x="1009" y="339" width="3" height="17" fill="#32cd32"/>
<rect x="1014" y="336" width="1" height="20" fill="#ff4500"/>
<rect x="1013" y="345" width="3" height="11" fill="#ff4500"/>
<rect x="1018" y="327" width="1" height="24" fill="#ff4500"/>
<rect x="1017" y="340" width="3" height="5" fill="#ff4500"/>
<rect x="1022" y="332" width="1" height="28" fill="#32cd32"/>
<rect x="1021" y="340" width="3" height="2" fill="#32cd32"/>
<rect x="1026" y="316" width="1" height="25" fill="#ff4500"/>
<rect x="1025" y="327" width="3" height="14" fill="#ff4500"/>
<rect x="1030" y="222" width="1" height="47" fill="#ff4500"/>
<rect x="1029" y="226" width="3" height="13" fill="#ff4500"/>
<rect x="1034" y="220" width="1" height="11" fill="#ff4500"/>
<rect x="1033" y="223" width="3" height="3" fill="#ff4500"/>
<rect x="1038" y="223" width="1" height="19" fill="#32cd32"/>
<rect x="1037" y="224" width="3" height="11" fill="#32cd32"/>
<rect x="1042" y="231" width="1" height="20" fill="#32cd32"/>
<rect x="1041" y="234" width="3" height="11" fill="#32cd32"/>
<rect x="1046" y="239" width="1" height="15" fill="#ff4500"/>
<rect x="1045" y="247" width="3" height="4" fill="#ff4500"/>
<rect x="1050" y="238" width="1" height="10" fill="#ff4500"/>
<rect x="1049" y="240" width="3" height="6" fill="#ff4500"/>
<rect x="1054" y="244" width="1" height="13" fill="#32cd32"/>
<rect x="1053" y="244" width="3" height="8" fill="#32cd32"/>
<rect x="1058" y="231" width="1" height="23" fill="#ff4500"/>
<rect x="1057" y="235" width="3" height="16" fill="#ff4500"/>
<rect x="1062" y="241" width="1" height="28" fill="#ff4500"/>
<rect x="1061" y="244" width="3" height="25" fill="#ff4500"/>
<rect x="1066" y="229" width="1" height="16" fill="#ff4500"/>
<rect x="1065" y="231" width="3" height="14" fill="#ff4500"/>
<rect x="1070" y="231" width="1" height="21" fill="#32cd32"/>
<rect x="1069" y="231" width="3" height="20" fill="#32cd32"/>
<rect x="1074" y="238" width="1" height="17" fill="#ff4500"/>
<rect x="1073" y="249" width="3" height="2" fill="#ff4500"/>
<rect x="1078" y="275" width="1" height="25" fill="#32cd32"/>
<rect x="1077" y="279" width="3" height="12" fill="#32cd32"/>
<rect x="1082" y="290" width="1" height="20" fill="#32cd32"/>
<rect x="1081" y="290" width="3" height="12" fill="#32cd32"/>
<rect x="1086" y="302" width="1" height="14" fill="#32cd32"/>
<rect x="1085" y="302" width="3" height="9" fill="#32cd32"/>
<rect x="1090" y="305" width="1" height="12" fill="#ff4500"/>
<rect x="1089" y="307" width="3" height="4" fill="#ff4500"/>
<rect x="1094" y="299" width="1" height="8" fill="#32cd32"/>
<rect x="1093" y="301" width="3" height="6" fill="#32cd32"/>
<rect x="1098" y="301" width="1" height="13" fill="#32cd32"/>
<rect x="1097" y="305" width="3" height="2" fill="#32cd32"/>
<rect x="1102" y="301" width="1" height="11" fill="#32cd32"/>
<rect x="1101" y="306" width="3" height="5" fill="#32cd32"/>
<rect x="1106" y="309" width="1" height="8" fill="#32cd32"/>
<rect x="1105" y="309" width="3" height="8" fill="#32cd32"/>
<rect x="1110" y="321" width="1" height="24" fill="#32cd32"/>
<rect x="1109" y="334" width="3" height="9" fill="#32cd32"/>
<rect x="1114" y="340" width="1" height="12" fill="#32cd32"/>
<rect x="1113" y="343" width="3" height="3" fill="#32cd32"/>
<rect x="1118" y="343" width="1" height="13" fill="#ff4500"/>
<rect x="1117" y="343" width="3" height="2" fill="#ff4500"/>
<rect x="1122" y="335" width="1" height="12" fill="#32cd32"/>
<rect x="1121" y="343" width="3" height="2" fill="#32cd32"/>
<rect x="1126" y="331" width="1" height="10" fill="#ff4500"/>
<rect x="1125" y="338" width="3" height="2" fill="#ff4500"/>
<rect x="1130" y="329" width="1" height="13" fill="#32cd32"/>
<rect x="1129" y="338" width="3" height="1" fill="#32cd32"/>
<rect x="1134" y="338" width="1" height="10" fill="#32cd32"/>
<rect x="1133" y="338" width="3" height="9" fill="#32cd32"/>
<rect x="1138" y="329" width="1" height="21" fill="#ff4500"/>
<rect x="1137" y="330" width="3" height="17" fill="#ff4500"/>
<rect x="1142" y="314" width="1" height="13" fill="#32cd32"/>
<rect x="1141" y="315" width="3" height="8" fill="#32cd32"/>
<rect x="1146" y="323" width="1" height="11" fill="#32cd32"/>
<rect x="1145" y="323" width="3" height="8" fill="#32cd32"/>
<rect x="1150" y="320" width="1" height="13" fill="#000"/>
<rect x="1149" y="330" width="3" height="1" fill="#000"/>
<rect x="1154" y="312" width="1" height="21" fill="#ff4500"/>
<rect x="1153" y="322" width="3" height="9" fill="#ff4500"/>
<rect x="1158" y="272" width="1" height="47" fill="#ff4500"/>
<rect x="1157" y="272" width="3" height="39" fill="#ff4500"/>
<rect x="1162" y="256" width="1" height="20" fill="#ff4500"/>
<rect x="1161" y="260" width="3" height="13" fill="#ff4500"/>
<rect x="1166" y="257" width="1" height="15" fill="#32cd32"/>
<rect x="1165" y="260" width="3" height="11" fill="#32cd32"/>
<rect x="1170" y="264" width="1" height="12" fill="#32cd32"/>
<rect x="1169" y="270" width="3" height="5" fill="#32cd32"/>
<rect x="1174" y="279" width="1" height="27" fill="#32cd32"/>
<rect x="1173" y="281" width="3" height="24" fill="#32cd32"/>
<rect x="1178" y="301" width="1" height="13" fill="#ff4500"/>
<rect x="1177" y="303" width="3" height="2" fill="#ff4500"/>
<rect x="1182" y="297" width="1" height="16" fill="#32cd32"/>
<rect x="1181" y="303" width="3" height="7" fill="#32cd32"/>
<rect x="1186" y="307" width="1" height="20" fill="#32cd32"/>
<rect x="1185" y="309" width="3" height="17" fill="#32cd32"/>
<rect x="1190" y="319" width="1" height="29" fill="#32cd32"/>
<rect x="1189" y="330" width="3" height="12" fill="#32cd32"/>
<rect x="1194" y="318" width="1" height="25" fill="#ff4500"/>
<rect x="1193" y="328" width="3" height="14" fill="#ff4500"/>
<rect x="1198" y="320" width="1" height="17" fill="#ff4500"/>
<rect x="1197" y="325" width="3" height="5" fill="#ff4500"/>
<rect x="1202" y="321" width="1" height="13" fill="#ff4500"/>
<rect x="1201" y="324" width="3" height="2" fill="#ff4500"/>
<rect x="1206" y="317" width="1" height="26" fill="#ff4500"/>
<rect x="1205" y="338" width="3" height="3" fill="#ff4500"/>
<rect x="1210" y="334" width="1" height="39" fill="#32cd32"/>
<rect x="1209" y="338" width="3" height="28" fill="#32cd32"/>
<rect x="1214" y="359" width="1" height="15" fill="#32cd32"/>
<rect x="1213" y="364" width="3" height="8" fill="#32cd32"/>
<rect x="1218" y="345" width="1" height="31" fill="#ff4500"/>
<rect x="1217" y="363" width="3" height="11" fill="#ff4500"/>
<rect x="1222" y="353" width="1" height="16" fill="#32cd32"/>
<rect x="1221" y="357" width="3" height="11" fill="#32cd32"/>
<rect x="1226" y="357" width="1" height="18" fill="#ff4500"/>
<rect x="1225" y="364" width="3" height="3" fill="#ff4500"/>
<rect x="1230" y="362" width="1" height="14" fill="#32cd32"/>
<rect x="1229" y="364" width="3" height="8" fill="#32cd32"/>
<rect x="1234" y="372" width="1" height="27" fill="#32cd32"/>
<rect x="1233" y="372" width="3" height="26" fill="#32cd32"/>
<rect x="1238" y="395" width="1" height="25" fill="#32cd32"/>
<rect x="1237" y="395" width="3" height="20" fill="#32cd32"/>
<rect x="1242" y="401" width="1" height="26" fill="#32cd32"/>
<rect x="1241" y="413" width="3" height="12" fill="#32cd32"/>
<rect x="1246" y="404" width="1" height="34" fill="#ff4500"/>
<rect x="1245" y="411" width="3" height="13" fill="#ff4500"/>
<rect x="1250" y="407" width="1" height="17" fill="#32cd32"/>
<rect x="1249" y="411" width="3" height="2" fill="#32cd32"/>
<rect x="1254" y="417" width="1" height="44" fill="#32cd32"/>
<rect x="1253" y="417" width="3" height="37" fill="#32cd32"/>
<rect x="1258" y="444" width="1" height="25" fill="#ff4500"/>
<rect x="1257" y="452" width="3" height="2" fill="#ff4500"/>
<rect x="1262" y="451" width="1" height="18" fill="#32cd32"/>
<rect x="1261" y="452" width="3" height="11" fill="#32cd32"/>
<rect x="1266" y="447" width="1" height="29" fill="#ff4500"/>
<rect x="1265" y="449" width="3" height="14" fill="#ff4500"/>
<rect x="1270" y="439" width="1" height="34" fill="#ff4500"/>
<rect x="1269" y="447" width="3" height="15" fill="#ff4500"/>
<rect x="1274" y="442" width="1" height="17" fill="#32cd32"/>
<rect x="1273" y="447" width="3" height="1" fill="#32cd32"/>
<rect x="1278" y="441" width="1" height="17" fill="#32cd32"/>
<rect x="1277" y="447" width="3" height="10" fill="#32cd32"/>
<rect x="1282" y="439" width="1" height="18" fill="#ff4500"/>
<rect x="1281" y="446" width="3" height="10" fill="#ff4500"/>
<rect x="1286" y="473" width="1" height="35" fill="#32cd32"/>
<rect x="1285" y="473" width="3" height="33" fill="#32cd32"/>
<rect x="1290" y="503" width="1" height="19" fill="#32cd32"/>
<rect x="1289" y="505" width="3" height="13" fill="#32cd32"/>
<rect x="1294" y="475" width="1" height="44" fill="#ff4500"/>
<rect x="1293" y="478" width="3" height="40" fill="#ff4500"/>
<rect x="1298" y="447" width="1" height="35" fill="#ff4500"/>
<rect x="1297" y="463" width="3" height="17" fill="#ff4500"/>
<rect x="3" y="59" width="287" height="80" fill="#fff"/>
<rect x="1" y="38" width="1" height="496" fill="#000"/>
<polygon points="5,51 14,51 9.5,46" fill="#000" shape-rendering="auto"/>
<rect x="1298" y="39" width="11" height="1" fill="#c0c0c0"/>
<rect x="1299" y="40" width="9" height="1" fill="#c0c0c0"/>
<rect x="1300" y="41" width="7" height="1" fill="#c0c0c0"/>
<rect x="1301" y="42" width="5" height="1" fill="#c0c0c0"/>
<rect x="1302" y="43" width="3" height="1" fill="#c0c0c0"/>
<rect x="1303" y="44" width="1" height="1" fill="#c0c0c0"/>
<rect x="2" y="563" width="1" height="1" fill="#c0c0c0"/>
<rect x="6" y="560" width="1" height="3" fill="#c0c0c0"/>
<rect x="10" y="558" width="1" height="5" fill="#c0c0c0"/>
<rect x="14" y="556" width="1" height="7" fill="#c0c0c0"/>
<rect x="18" y="554" width="1" height="9" fill="#c0c0c0"/>
<rect x="22" y="553" width="1" height="10" fill="#c0c0c0"/>
<rect x="26" y="552" width="1" height="11" fill="#c0c0c0"/>
<rect x="30" y="552" width="1" height="11" fill="#c0c0c0"/>
<rect x="34" y="552" width="1" height="11" fill="#c0c0c0"/>
<rect x="38" y="552" width="1" height="11" fill="#c0c0c0"/>
<rect x="42" y="552" width="1" height="11" fill="#c0c0c0"/>
<rect x="46" y="552" width="1" height="11" fill="#c0c0c0"/>
<rect x="50" y="553" width="1" height="10" fill="#c0c0c0"/>
<rect x="54" y="554" width="1" height="9" fill="#c0c0c0"/>
<rect x="58" y="555" width="1" height="8" fill="#c0c0c0"/>
<rect x="62" y="557" width="1" height="6" fill="#c0c0c0"/>
<rect x="66" y="559" width="1" height="4" fill="#c0c0c0"/>
<rect x="70" y="561" width="1" height="2" fill="#c0c0c0"/>
<rect x="74" y="562" width="1" height="1" fill="#c0c0c0"/>
<rect x="78" y="563" width="1" height="1" fill="#c0c0c0"/>
<rect x="82" y="563" width="1" height="2" fill="#c0c0c0"/>
<rect x="86" y="563" width="1" height="3" fill="#c0c0c0"/>
<rect x="90" y="563" width="1" height="4" fill="#c0c0c0"/>
<rect x="94" y="563" width="1" height="5" fill="#c0c0c0"/>
<rect x="98" y="563" width="1" height="5" fill="#c0c0c0"/>
<rect x="102" y="563" width="1" height="4" fill="#c0c0c0"/>
<rect x="106" y="563" width="1" height="4" fill="#c0c0c0"/>
<rect x="110" y="563" width="1" height="4" fill="#c0c0c0"/>
<rect x="114" y="563" width="1" height="4" fill="#c0c0c0"/>
<rect x="118" y="563" width="1" height="5" fill="#c0c0c0"/>
<rect x="122" y="563" width="1" height="5" fill="#c0c0c0"/>
<rect x="126" y="563" width="1" height="5" fill="#c0c0c0"/>
<rect x="130" y="563" width="1" height="6" fill="#c0c0c0"/>
<rect x="134" y="563" width="1" height="6" fill="#c0c0c0"/>
<rect x="138" y="563" width="1" height="6" fill="#c0c0c0"/>
<rect x="142" y="563" width="1" height="7" fill="#c0c0c0"/>
<rect x="146" y="563" width="1" height="7" fill="#c0c0c0"/>
<rect x="150" y="563" width="1" height="8" fill="#c0c0c0"/>
<rect x="154" y="563" width="1" height="8" fill="#c0c0c0"/>
<rect x="158" y="563" width="1" height="9" fill="#c0c0c0"/>
<rect x="162" y="563" width="1" height="10" fill="#c0c0c0"/>
<rect x="166" y="563" width="1" height="10" fill="#c0c0c0"/>
<rect x="170" y="563" width="1" height="11" fill="#c0c0c0"/>
<rect x="174" y="563" width="1" height="11" fill="#c0c0c0"/>
<rect x="178" y="563" width="1" height="12" fill="#c0c0c0"/>
<rect x="182" y="563" width="1" height="12" fill="#c0c0c0"/>
<rect x="186" y="563" width="1" height="12" fill="#c0c0c0"/>
<rect x="190" y="563" width="1" height="13" fill="#c0c0c0"/>
<rect x="194" y="563" width="1" height="13" fill="#c0c0c0"/>
<rect x="198" y="563" width="1" height="14" fill="#c0c0c0"/>
<rect x="202" y="563" width="1" height="14" fill="#c0c0c0"/>
<rect x="206" y="563" width="1" height="14" fill="#c0c0c0"/>
<rect x="210" y="563" width="1" height="14" fill="#c0c0c0"/>
<rect x="214" y="563" width="1" height="14" fill="#c0c0c0"/>
<rect x="218" y="563" width="1" height="14" fill="#c0c0c0"/>
<rect x="222" y="563" width="1" height="14" fill="#c0c0c0"/>
<rect x="226" y="563" width="1" height="13" fill="#c0c0c0"/>
<rect x="230" y="563" width="1" height="13" fill="#c0c0c0"/>
<rect x="234" y="563" width="1" height="12" fill="#c0c0c0"/>
<rect x="238" y="563" width="1" height="11" fill="#c0c0c0"/>
<rect x="242" y="563" width="1" height="10" fill="#c0c0c0"/>
<rect x="246" y="563" width="1" height="9" fill="#c0c0c0"/>
<rect x="250" y="563" width="1" height="8" fill="#c0c0c0"/>
<rect x="254" y="563" width="1" height="7" fill="#c0c0c0"/>
<rect x="258" y="563" width="1" height="6" fill="#c0c0c0"/>
<rect x="262" y="563" width="1" height="6" fill="#c0c0c0"/>
<rect x="266" y="563" width="1" height="5" fill="#c0c0c0"/>
<rect x="270" y="563" width="1" height="5" fill="#c0c0c0"/>
<rect x="274" y="563" width="1" height="4" fill="#c0c0c0"/>
<rect x="278" y="563" width="1" height="3" fill="#c0c0c0"/>
<rect x="282" y="563" width="1" height="1" fill="#c0c0c0"/>
<rect x="286" y="560" width="1" height="3" fill="#c0c0c0"/>
<rect x="290" y="557" width="1" height="6" fill="#c0c0c0"/>
<rect x="294" y="556" width="1" height="7" fill="#c0c0c0"/>
<rect x="298" y="554" width="1" height="9" fill="#c0c0c0"/>
<rect x="302" y="554" width="1" height="9" fill="#c0c0c0"/>
<rect x="306" y="553" width="1" height="10" fill="#c0c0c0"/>
<rect x="310" y="552" width="1" height="11" fill="#c0c0c0"/>
<rect x="314" y="551" width="1" height="12" fill="#c0c0c0"/>
<rect x="318" y="548" width="1" height="15" fill="#c0c0c0"/>
<rect x="322" y="546" width="1" height="17" fill="#c0c0c0"/>
<rect x="326" y="544" width="1" height="19" fill="#c0c0c0"/>
<rect x="330" y="543" width="1" height="20" fill="#c0c0c0"/>
<rect x="334" y="543" width="1" height="20" fill="#c0c0c0"/>
<rect x="338" y="543" width="1" height="20" fill="#c0c0c0"/>
<rect x="342" y="542" width="1" height="21" fill="#c0c0c0"/>
<rect x="346" y="542" width="1" height="21" fill="#c0c0c0"/>
<rect x="350" y="541" width="1" height="22" fill="#c0c0c0"/>
<rect x="354" y="541" width="1" height="22" fill="#c0c0c0"/>
<rect x="358" y="541" width="1" height="22" fill="#c0c0c0"/>
<rect x="362" y="541" width="1" height="22" fill="#c0c0c0"/>
<rect x="366" y="541" width="1" height="22" fill="#c0c0c0"/>
<rect x="370" y="542" width="1" height="21" fill="#c0c0c0"/>
<rect x="374" y="542" width="1" height="21" fill="#c0c0c0"/>
<rect x="378" y="543" width="1" height="20" fill="#c0c0c0"/>
<rect x="382" y="544" width="1" height="19" fill="#c0c0c0"/>
<rect x="386" y="546" width="1" height="17" fill="#c0c0c0"/>
<rect x="390" y="549" width="1" height="14" fill="#c0c0c0"/>
<rect x="394" y="553" width="1" height="10" fill="#c0c0c0"/>
<rect x="398" y="557" width="1" height="6" fill="#c0c0c0"/>
<rect x="402" y="561" width="1" height="2" fill="#c0c0c0"/>
<rect x="406" y="563" width="1" height="1" fill="#c0c0c0"/>
<rect x="410" y="563" width="1" height="2" fill="#c0c0c0"/>
<rect x="414" y="563" width="1" height="4" fill="#c0c0c0"/>
<rect x="418" y="563" width="1" height="5" fill="#c0c0c0"/>
<rect x="422" y="563" width="1" height="8" fill="#c0c0c0"/>
<rect x="426" y="563" width="1" height="9" fill="#c0c0c0"/>
<rect x="430" y="563" width="1" height="10" fill="#c0c0c0"/>
<rect x="434" y="563" width="1" height="12" fill="#c0c0c0"/>
<rect x="438" y="563" width="1" height="14" fill="#c0c0c0"/>
<rect x="442" y="563" width="1" height="18" fill="#c0c0c0"/>
<rect x="446" y="563" width="1" height="22" fill="#c0c0c0"/>
<rect x="450" y="563" width="1" height="26" fill="#c0c0c0"/>
<rect x="454" y="563" width="1" height="29" fill="#c0c0c0"/>
<rect x="458" y="563" width="1" height="30" fill="#c0c0c0"/>
<rect x="462" y="563" width="1" height="30" fill="#c0c0c0"/>
<rect x="466" y="563" width="1" height="28" fill="#c0c0c0"/>
<rect x="470" y="563" width="1" height="28" fill="#c0c0c0"/>
<rect x="474" y="563" width="1" height="27" fill="#c0c0c0"/>
<rect x="478" y="563" width="1" height="27" fill="#c0c0c0"/>
<rect x="482" y="563" width="1" height="26" fill="#c0c0c0"/>
<rect x="486" y="563" width="1" height="26" fill="#c0c0c0"/>
<rect x="490" y="563" width="1" height="26" fill="#c0c0c0"/>
<rect x="494" y="563" width="1" height="25" fill="#c0c0c0"/>
<rect x="498" y="563" width="1" height="25" fill="#c0c0c0"/>
<rect x="502" y="563" width="1" height="25" fill="#c0c0c0"/>
<rect x="506" y="563" width="1" height="24" fill="#c0c0c0"/>
<rect x="510" y="563" width="1" height="24" fill="#c0c0c0"/>
<rect x="514" y="563" width="1" height="23" fill="#c0c0c0"/>
<rect x="518" y="563" width="1" height="23" fill="#c0c0c0"/>
<rect x="522" y="563" width="1" height="23" fill="#c0c0c0"/>
<rect x="526" y="563" width="1" height="22" fill="#c0c0c0"/>
<rect x="530" y="563" width="1" height="22" fill="#c0c0c0"/>
<rect x="534" y="563" width="1" height="21" fill="#c0c0c0"/>
<rect x="538" y="563" width="1" height="21" fill="#c0c0c0"/>
<rect x="542" y="563" width="1" height="19" fill="#c0c0c0"/>
<rect x="546" y="563" width="1" height="17" fill="#c0c0c0"/>
<rect x="550" y="563" width="1" height="12" fill="#c0c0c0"/>
<rect x="554" y="563" width="1" height="4" fill="#c0c0c0"/>
<rect x="558" y="561" width="1" height="2" fill="#c0c0c0"/>
<rect x="562" y="557" width="1" height="6" fill="#c0c0c0"/>
<rect x="566" y="554" width="1" height="9" fill="#c0c0c0"/>
<rect x="570" y="554" width="1" height="9" fill="#c0c0c0"/>
<rect x="574" y="554" width="1" height="9" fill="#c0c0c0"/>
<rect x="578" y="555" width="1" height="8" fill="#c0c0c0"/>
<rect x="582" y="556" width="1" height="7" fill="#c0c0c0"/>
<rect x="586" y="557" width="1" height="6" fill="#c0c0c0"/>
<rect x="590" y="558" width="1" height="5" fill="#c0c0c0"/>
<rect x="594" y="559" width="1" height="4" fill="#c0c0c0"/>
<rect x="598" y="560" width="1" height="3" fill="#c0c0c0"/>
<rect x="602" y="562" width="1" height="1" fill="#c0c0c0"/>
<rect x="606" y="563" width="1" height="1" fill="#c0c0c0"/>
<rect x="610" y="563" width="1" height="1" fill="#c0c0c0"/>
<rect x="614" y="563" width="1" height="1" fill="#c0c0c0"/>
<rect x="618" y="563" width="1" height="1" fill="#c0c0c0"/>
<rect x="622" y="563" width="1" height="2" fill="#c0c0c0"/>
<rect x="626" y="563" width="1" height="2" fill="#c0c0c0"/>
<rect x="630" y="563" width="1" height="3" fill="#c0c0c0"/>
<rect x="634" y="563" width="1" height="4" fill="#c0c0c0"/>
<rect x="638" y="563" width="1" height="6" fill="#c0c0c0"/>
<rect x="642" y="563" width="1" height="9" fill="#c0c0c0"/>
<rect x="646" y="563" width="1" height="11" fill="#c0c0c0"/>
<rect x="650" y="563" width="1" height="12" fill="#c0c0c0"/>
<rect x="654" y="563" width="1" height="11" fill="#c0c0c0"/>
<rect x="658" y="563" width="1" height="10" fill="#c0c0c0"/>
<rect x="662" y="563" width="1" height="9" fill="#c0c0c0"/>
<rect x="666" y="563" width="1" height="8" fill="#c0c0c0"/>
<rect x="670" y="563" width="1" height="6" fill="#c0c0c0"/>
<rect x="674" y="563" width="1" height="5" fill="#c0c0c0"/>
<rect x="678" y="563" width="1" height="4" fill="#c0c0c0"/>
<rect x="682" y="563" width="1" height="2" fill="#c0c0c0"/>
<rect x="686" y="563" width="1" height="1" fill="#c0c0c0"/>
<rect x="690" y="561" width="1" height="2" fill="#c0c0c0"/>
<rect x="694" y="558" width="1" height="5" fill="#c0c0c0"/>
<rect x="698" y="555" width="1" height="8" fill="#c0c0c0"/>
<rect x="702" y="553" width="1" height="10" fill="#c0c0c0"/>
<rect x="706" y="550" width="1" height="13" fill="#c0c0c0"/>
<rect x="710" y="549" width="1" height="14" fill="#c0c0c0"/>
<rect x="714" y="548" width="1" height="15" fill="#c0c0c0"/>
<rect x="718" y="549" width="1" height="14" fill="#c0c0c0"/>
<rect x="722" y="550" width="1" height="13" fill="#c0c0c0"/>
<rect x="726" y="550" width="1" height="13" fill="#c0c0c0"/>
<rect x="730" y="551" width="1" height="12" fill="#c0c0c0"/>
<rect x="734" y="552" width="1" height="11" fill="#c0c0c0"/>
<rect x="738" y="552" width="1" height="11" fill="#c0c0c0"/>
<rect x="742" y="553" width="1" height="10" fill="#c0c0c0"/>
<rect x="746" y="553" width="1" height="10" fill="#c0c0c0"/>
<rect x="750" y="554" width="1" height="9" fill="#c0c0c0"/>
<rect x="754" y="556" width="1" height="7" fill="#c0c0c0"/>
<rect x="758" y="557" width="1" height="6" fill="#c0c0c0"/>
<rect x="762" y="558" width="1" height="5" fill="#c0c0c0"/>
<rect x="766" y="559" width="1" height="4" fill="#c0c0c0"/>
<rect x="770" y="560" width="1" height="3" fill="#c0c0c0"/>
<rect x="774" y="562" width="1" height="1" fill="#c0c0c0"/>
<rect x="778" y="562" width="1" height="1" fill="#c0c0c0"/>
<rect x="782" y="563" width="1" height="1" fill="#c0c0c0"/>
<rect x="786" y="563" width="1" height="2" fill="#c0c0c0"/>
<rect x="790" y="563" width="1" height="3" fill="#c0c0c0"/>
<rect x="794" y="563" width="1" height="4" fill="#c0c0c0"/>
<rect x="798" y="563" width="1" height="4" fill="#c0c0c0"/>
<rect x="802" y="563" width="1" height="4" fill="#c0c0c0"/>
<rect x="806" y="563" width="1" height="4" fill="#c0c0c0"/>
<rect x="810" y="563" width="1" height="4" fill="#c0c0c0"/>
<rect x="814" y="563" width="1" height="3" fill="#c0c0c0"/>
<rect x="818" y="563" width="1" height="3" fill="#c0c0c0"/>
<rect x="822" y="563" width="1" height="2" fill="#c0c0c0"/>
<rect x="826" y="563" width="1" height="1" fill="#c0c0c0"/>
<rect x="830" y="563" width="1" height="1" fill="#c0c0c0"/>
<rect x="834" y="562" width="1" height="1" fill="#c0c0c0"/>
<rect x="838" y="562" width="1" height="1" fill="#c0c0c0"/>
<rect x="842" y="562" width="1" height="1" fill="#c0c0c0"/>
<rect x="846" y="561" width="1" height="2" fill="#c0c0c0"/>
<rect x="850" y="561" width="1" height="2" fill="#c0c0c0"/>
<rect x="854" y="560" width="1" height="3" fill="#c0c0c0"/>
<rect x="858" y="560" width="1" height="3" fill="#c0c0c0"/>
<rect x="862" y="558" width="1" height="5" fill="#c0c0c0"/>
<rect x="866" y="558" width="1" height="5" fill="#c0c0c0"/>
<rect x="870" y="557" width="1" height="6" fill="#c0c0c0"/>
<rect x="874" y="556" width="1" height="7" fill="#c0c0c0"/>
<rect x="878" y="556" width="1" height="7" fill="#c0c0c0"/>
<rect x="882" y="555" width="1" height="8" fill="#c0c0c0"/>
<rect x="886" y="557" width="1" height="6" fill="#c0c0c0"/>
<rect x="890" y="559" width="1" height="4" fill="#c0c0c0"/>
<rect x="894" y="560" width="1" height="3" fill="#c0c0c0"/>
<rect x="898" y="562" width="1" height="1" fill="#c0c0c0"/>
<rect x="902" y="563" width="1" height="1" fill="#c0c0c0"/>
<rect x="906" y="563" width="1" height="1" fill="#c0c0c0"/>
<rect x="910" y="563" width="1" height="1" fill="#c0c0c0"/>
<rect x="914" y="563" width="1" height="2" fill="#c0c0c0"/>
<rect x="918" y="563" width="1" height="3" fill="#c0c0c0"/>
<rect x="922" y="563" width="1" height="3" fill="#c0c0c0"/>
<rect x="926" y="563" width="1" height="4" fill="#c0c0c0"/>
<rect x="930" y="563" width="1" height="5" fill="#c0c0c0"/>
<rect x="934" y="563" width="1" height="6" fill="#c0c0c0"/>
<rect x="938" y="563" width="1" height="7" fill="#c0c0c0"/>
<rect x="942" y="563" width="1" height="9" fill="#c0c0c0"/>
<rect x="946" y="563" width="1" height="10" fill="#c0c0c0"/>
<rect x="950" y="563" width="1" height="10" fill="#c0c0c0"/>
<rect x="954" y="563" width="1" height="11" fill="#c0c0c0"/>
<rect x="958" y="563" width="1" height="12" fill="#c0c0c0"/>
<rect x="962" y="563" width="1" height="13" fill="#c0c0c0"/>
<rect x="966" y="563" width="1" height="13" fill="#c0c0c0"/>
<rect x="970" y="563" width="1" height="14" fill="#c0c0c0"/>
<rect x="974" y="563" width="1" height="14" fill="#c0c0c0"/>
<rect x="978" y="563" width="1" height="13" fill="#c0c0c0"/>
<rect x="982" y="563" width="1" height="13" fill="#c0c0c0"/>
<rect x="986" y="563" width="1" height="12" fill="#c0c0c0"/>
<rect x="990" y="563" width="1" height="10" fill="#c0c0c0"/>
<rect x="994" y="563" width="1" height="9" fill="#c0c0c0"/>
<rect x="998" y="563" width="1" height="7" fill="#c0c0c0"/>
<rect x="1002" y="563" width="1" height="6" fill="#c0c0c0"/>
<rect x="1006" y="563" width="1" height="6" fill="#c0c0c0"/>
<rect x="1010" y="563" width="1" height="5" fill="#c0c0c0"/>
<rect x="1014" y="563" width="1" height="5" fill="#c0c0c0"/>
<rect x="1018" y="563" width="1" height="5" fill="#c0c0c0"/>
<rect x="1022" y="563" width="1" height="5" fill="#c0c0c0"/>
<rect x="1026" y="563" width="1" height="5" fill="#c0c0c0"/>
<rect x="1030" y="563" width="1" height="4" fill="#c0c0c0"/>
<rect x="1034" y="559" width="1" height="4" fill="#c0c0c0"/>
<rect x="1038" y="557" width="1" height="6" fill="#c0c0c0"/>
<rect x="1042" y="555" width="1" height="8" fill="#c0c0c0"/>
<rect x="1046" y="554" width="1" height="9" fill="#c0c0c0"/>
<rect x="1050" y="553" width="1" height="10" fill="#c0c0c0"/>
<rect x="1054" y="552" width="1" height="11" fill="#c0c0c0"/>
<rect x="1058" y="552" width="1" height="11" fill="#c0c0c0"/>
<rect x="1062" y="551" width="1" height="12" fill="#c0c0c0"/>
<rect x="1066" y="551" width="1" height="12" fill="#c0c0c0"/>
<rect x="1070" y="551" width="1" height="12" fill="#c0c0c0"/>
<rect x="1074" y="552" width="1" height="11" fill="#c0c0c0"/>
<rect x="1078" y="554" width="1" height="9" fill="#c0c0c0"/>
<rect x="1082" y="558" width="1" height="5" fill="#c0c0c0"/>
<rect x="1086" y="560" width="1" height="3" fill="#c0c0c0"/>
<rect x="1090" y="562" width="1" height="1" fill="#c0c0c0"/>
<rect x="1094" y="563" width="1" height="1" fill="#c0c0c0"/>
<rect x="1098" y="563" width="1" height="1" fill="#c0c0c0"/>
<rect x="1102" y="563" width="1" height="2" fill="#c0c0c0"/>
<rect x="1106" y="563" width="1" height="2" fill="#c0c0c0"/>
<rect x="1110" y="563" width="1" height="4" fill="#c0c0c0"/>
<rect x="1114" y="563" width="1" height="5" fill="#c0c0c0"/>
<rect x="1118" y="563" width="1" height="7" fill="#c0c0c0"/>
<rect x="1122" y="563" width="1" height="8" fill="#c0c0c0"/>
<rect x="1126" y="563" width="1" height="8" fill="#c0c0c0"/>
<rect x="1130" y="563" width="1" height="9" fill="#c0c0c0"/>
<rect x="1134" y="563" width="1" height="9" fill="#c0c0c0"/>
<rect x="1138" y="563" width="1" height="8" fill="#c0c0c0"/>
<rect x="1142" y="563" width="1" height="8" fill="#c0c0c0"/>
<rect x="1146" y="563" width="1" height="7" fill="#c0c0c0"/>
<rect x="1150" y="563" width="1" height="7" fill="#c0c0c0"/>
<rect x="1154" y="563" width="1" height="6" fill="#c0c0c0"/>
<rect x="1158" y="563" width="1" height="5" fill="#c0c0c0"/>
<rect x="1162" y="563" width="1" height="3" fill="#c0c0c0"/>
<rect x="1166" y="563" width="1" height="1" fill="#c0c0c0"/>
<rect x="1170" y="562" width="1" height="1" fill="#c0c0c0"/>
<rect x="1174" y="561" width="1" height="2" fill="#c0c0c0"/>
<rect x="1178" y="562" width="1" height="1" fill="#c0c0c0"/>
<rect x="1182" y="562" width="1" height="1" fill="#c0c0c0"/>
<rect x="1186" y="562" width="1" height="1" fill="#c0c0c0"/>
<rect x="1190" y="562" width="1" height="1" fill="#c0c0c0"/>
<rect x="1194" y="562" width="1" height="1" fill="#c0c0c0"/>
<rect x="1198" y="562" width="1" height="1" fill="#c0c0c0"/>
<rect x="1202" y="563" width="1" height="1" fill="#c0c0c0"/>
<rect x="1206" y="563" width="1" height="2" fill="#c0c0c0"/>
<rect x="1210" y="563" width="1" height="4" fill="#c0c0c0"/>
<rect x="1214" y="563" width="1" height="6" fill="#c0c0c0"/>
<rect x="1218" y="563" width="1" height="7" fill="#c0c0c0"/>
<rect x="1222" y="563" width="1" height="7" fill="#c0c0c0"/>
<rect x="1226" y="563" width="1" height="8" fill="#c0c0c0"/>
<rect x="1230" y="563" width="1" height="9" fill="#c0c0c0"/>
<rect x="1234" y="563" width="1" height="10" fill="#c0c0c0"/>
<rect x="1238" y="563" width="1" height="11" fill="#c0c0c0"/>
<rect x="1242" y="563" width="1" height="13" fill="#c0c0c0"/>
<rect x="1246" y="563" width="1" height="14" fill="#c0c0c0"/>
<rect x="1250" y="563" width="1" height="16" fill="#c0c0c0"/>
<rect x="1254" y="563" width="1" height="17" fill="#c0c0c0"/>
<rect x="1258" y="563" width="1" height="18" fill="#c0c0c0"/>
<rect x="1262" y="563" width="1" height="19" fill="#c0c0c0"/>
<rect x="1266" y="563" width="1" height="20" fill="#c0c0c0"/>
<rect x="1270" y="563" width="1" height="20" fill="#c0c0c0"/>
<rect x="1274" y="563" width="1" height="20" fill="#c0c0c0"/>
<rect x="1278" y="563" width="1" height="20" fill="#c0c0c0"/>
<rect x="1282" y="563" width="1" height="21" fill="#c0c0c0"/>
<rect x="1286" y="563" width="1" height="21" fill="#c0c0c0"/>
<rect x="1290" y="563" width="1" height="22" fill="#c0c0c0"/>
<rect x="1294" y="563" width="1" height="22" fill="#c0c0c0"/>
<rect x="1298" y="563" width="1" height="22" fill="#c0c0c0"/>
<polyline points="2.6,563.4 13.1,561.3 23.5,557.6 34.0,553.4 41.8,551.6 52.3,551.1 62.7,551.6 73.2,554.2 83.7,557.6 91.5,562.1 99.3,564.2 109.8,566.0 122.9,566.5 135.9,566.8 146.4,568.1 156.9,569.9 167.3,571.7 177.8,573.3 188.2,574.6 198.7,575.7 209.2,576.4 222.2,576.4 232.7,575.9 243.1,573.8 253.6,572.5 264.1,571.2 274.5,570.4 282.4,568.1 290.2,564.7 300.7,559.5 311.1,556.1 321.6,551.6 332.0,547.7 342.5,544.5 352.9,541.7 366.0,541.4 379.1,541.7 389.5,543.0 400.0,547.2 410.5,554.2 419.6,561.3 422.6,562.8 427.8,566.5 435.7,569.9 443.5,573.8 451.4,578.5 459.2,583.0 467.1,587.4 474.9,589.5 482.7,591.3 493.2,590.6 503.7,589.0 514.1,587.7 524.6,586.9 535.0,586.1 545.5,584.8 553.3,581.7 561.2,576.4 569.0,569.9 576.9,563.4 584.7,558.1 592.5,555.0 597.8,555.5 605.6,556.8 616.1,558.9 626.5,561.3 637.0,564.7 647.5,568.6 655.3,571.2 663.1,572.5 673.6,572.5 681.4,569.9 691.9,565.5 702.4,560.8 712.8,555.5 720.7,551.6 728.5,549.5 741.6,549.5 754.6,551.6 765.1,554.2 775.6,556.1 786.0,559.5 796.5,562.8 806.9,565.5 817.4,566.5 827.8,564.7 838.3,563.4 848.8,562.1 860.0,561.3 870.5,558.1 880.9,556.1 891.4,555.5 901.8,556.1 912.3,558.7 922.7,562.1 933.2,564.7 943.7,567.3 954.1,570.7 964.6,573.3 975.0,575.1 985.5,575.4 995.9,574.4 1006.4,572.5 1016.9,570.4 1027.3,568.6 1037.8,565.5 1048.2,560.8 1058.7,555.5 1069.2,552.1 1079.6,551.6 1090.1,552.9 1100.5,556.1 1111.0,560.8 1121.4,565.5 1131.9,568.6 1142.4,569.9 1152.8,570.4 1163.3,569.4 1173.7,565.5 1184.2,563.4 1197.3,562.6 1207.7,563.4 1218.2,566.0 1228.6,568.6 1239.1,570.7 1249.5,573.8 1260.0,577.0 1270.5,579.8 1280.9,581.2 1291.4,583.0 1296.6,583.8" fill="none" stroke="#ff0000" stroke-width="1" stroke-dasharray="3 3"/>
<line x1="2" x2="1631" y1="638.5" y2="638.5" stroke="#c0c0c0" stroke-width="1" stroke-dasharray="3 3"/>
<line x1="2" x2="1631" y1="688.5" y2="688.5" stroke="#c0c0c0" stroke-width="1" stroke-dasharray="3 3"/>
<polyline points="2.1,660.7 10.5,646.4 22.2,644.5 28.8,647.2 38.7,648.5 43.1,654.2 49.7,652.4 58.8,665.5 66.7,664.7 70.1,678.5 74.5,666.5 78.4,669.1 82.4,669.1 86.8,677.2 90.2,678.5 94.1,678.5 98.8,669.1 105.9,669.1 111.1,653.4 115.0,655.0 122.4,668.1 126.8,669.9 130.7,677.7 134.6,673.3 138.6,674.3 142.5,680.4 146.4,683.0 150.3,666.5 154.2,678.3 158.2,676.4 162.1,670.7 166.0,678.5 171.2,675.1 177.8,677.0 182.5,679.6 186.1,672.5 192.2,676.4 198.7,677.2 202.6,680.4 206.5,677.2 210.5,680.4 214.4,678.3 218.3,680.4 222.2,677.7 226.1,668.6 232.7,667.3 239.2,665.2 242.6,667.3 245.8,673.8 250.5,678.5 254.9,676.4 258.8,677.7 262.2,671.2 266.7,675.6 271.9,658.7 278.4,643.8 282.4,641.9 286.3,637.2 290.2,645.6 294.1,643.2 299.3,645.6 305.9,644.5 310.6,644.3 315.0,631.5 319.0,628.8 322.4,625.2 326.3,637.2 330.7,643.2 335.9,643.0 339.9,640.4 346.4,633.3 351.6,636.7 358.2,644.3 365.5,646.4 371.2,643.0 377.8,636.7 381.7,639.0 386.4,638.0 390.3,673.8 394.8,675.9 398.7,676.4 402.6,683.5 407.8,677.0 413.1,677.7 418.3,680.4 422.2,678.3 426.1,681.7 430.0,679.0 434.7,678.5 437.3,689.5 441.0,696.8 445.7,700.0 450.9,703.4 454.8,694.7 458.8,687.4 462.7,683.5 470.5,683.5 473.9,688.2 478.4,688.2 482.3,691.1 486.2,680.9 490.1,684.8 495.4,687.4 498.5,685.6 502.4,678.5 506.3,682.2 510.5,682.2 514.4,679.6 518.4,684.8 523.6,686.4 527.3,688.2 530.7,691.3 534.1,688.7 538.0,687.4 541.9,663.9 545.6,666.5 549.7,645.1 553.4,640.4 557.6,639.0 562.0,641.1 565.9,650.3 569.9,655.5 574.3,659.4 578.5,664.7 582.4,660.2 586.3,652.9 590.8,662.8 594.7,664.7 598.6,669.1 602.5,669.1 606.5,668.1 610.9,659.4 615.1,661.5 618.8,667.3 626.1,667.3 630.8,677.2 634.7,676.4 638.6,681.1 643.1,681.1 647.5,677.2 654.1,666.5 658.2,671.7 662.7,662.6 666.6,662.1 670.5,660.0 674.4,662.6 678.4,650.3 682.3,649.5 686.2,655.5 690.1,660.2 694.6,649.5 698.5,647.7 702.4,642.4 706.3,640.4 710.3,646.4 714.4,654.2 718.4,655.5 722.3,651.6 726.2,659.4 730.1,662.1 734.1,657.6 738.0,656.0 742.4,656.0 746.3,652.9 750.3,662.1 754.2,664.7 758.1,660.7 762.5,656.0 767.3,660.7 771.2,665.2 775.1,670.4 779.0,673.0 782.9,672.5 786.9,674.3 790.8,670.7 794.7,667.8 798.6,667.3 802.5,664.7 806.5,668.6 810.4,660.0 814.3,652.1 818.2,654.7 822.2,660.7 826.1,658.7 830.0,664.7 833.9,665.5 837.8,660.0 841.8,659.4 845.7,656.8 850.4,654.2 854.1,660.2 858.0,647.7 860.0,646.4 862.6,646.4 866.5,655.0 870.5,650.3 874.4,652.4 878.3,652.4 882.2,648.5 886.1,664.7 890.8,668.6 897.9,668.6 902.4,671.2 906.5,667.3 914.4,667.3 918.8,673.8 922.2,675.9 926.7,667.3 930.1,668.6 934.5,679.0 938.4,681.1 943.1,687.4 946.3,686.4 950.2,678.5 954.1,678.3 958.8,682.2 962.5,683.0 966.4,676.4 969.8,676.4 975.0,682.2 979.0,681.1 982.9,677.7 986.8,663.4 990.7,663.4 994.6,664.1 998.6,662.8 1002.0,661.3 1005.9,668.1 1010.3,675.1 1014.2,671.2 1018.2,668.6 1022.1,669.1 1026.0,662.8 1029.9,636.7 1034.6,636.4 1038.6,640.6 1043.0,644.5 1046.9,645.1 1050.3,644.3 1054.8,648.2 1058.7,644.5 1062.6,647.7 1066.5,645.6 1070.5,652.9 1074.4,653.7 1078.3,666.5 1082.2,669.9 1086.9,673.3 1091.4,671.7 1095.3,671.2 1100.5,671.2 1105.8,673.8 1110.5,683.0 1114.9,683.0 1118.8,682.2 1122.7,683.5 1126.7,679.6 1130.6,679.6 1134.5,682.4 1138.4,672.5 1142.4,668.6 1146.3,671.2 1150.2,671.2 1154.1,667.3 1158.0,645.6 1162.5,642.4 1166.4,646.4 1170.3,649.0 1174.5,662.8 1178.4,663.4 1182.4,665.5 1186.3,671.2 1190.2,677.2 1194.1,671.2 1198.6,669.1 1202.5,669.1 1206.4,673.8 1210.8,682.2 1214.8,685.1 1218.7,680.4 1222.6,681.1 1226.5,679.6 1230.5,682.2 1234.4,689.0 1238.3,691.6 1242.5,694.2 1246.4,687.4 1250.3,688.2 1254.2,696.0 1258.7,696.0 1262.6,697.9 1266.5,690.8 1270.5,689.0 1274.4,689.5 1278.3,691.3 1282.2,685.6 1286.1,696.8 1290.6,700.5 1294.0,684.3 1297.9,677.0" fill="none" stroke="#1e90ff" stroke-width="1" />
<rect x="1632" y="73" width="2" height="1" fill="#000"/>
<rect x="1632" y="122" width="2" height="1" fill="#000"/>
<rect x="1632" y="171" width="2" height="1" fill="#000"/>
<rect x="1632" y="220" width="2" height="1" fill="#000"/>
<rect x="1632" y="269" width="2" height="1" fill="#000"/>
<rect x="1632" y="318" width="2" height="1" fill="#000"/>
<rect x="1632" y="367" width="2" height="1" fill="#000"/>
<rect x="1632" y="416" width="2" height="1" fill="#000"/>
<rect x="1632" y="465" width="2" height="1" fill="#000"/>
<rect x="1632" y="514" width="2" height="1" fill="#000"/>
<rect x="1632" y="563" width="2" height="1" fill="#000"/>
<rect x="1632" y="537" width="1" height="1" fill="#000"/>
<rect x="1632" y="595" width="1" height="1" fill="#000"/>
<rect x="1632" y="600" width="1" height="1" fill="#000"/>
<rect x="1632" y="726" width="1" height="1" fill="#000"/>
<rect x="2" y="728" width="1" height="3" fill="#000"/>
<rect x="98" y="728" width="1" height="3" fill="#000"/>
<rect x="194" y="728" width="1" height="3" fill="#000"/>
<rect x="290" y="728" width="1" height="3" fill="#000"/>
<rect x="386" y="728" width="1" height="3" fill="#000"/>
<rect x="482" y="728" width="1" height="3" fill="#000"/>
<rect x="578" y="728" width="1" height="3" fill="#000"/>
<rect x="674" y="728" width="1" height="3" fill="#000"/>
<rect x="770" y="728" width="1" height="3" fill="#000"/>
<rect x="866" y="728" width="1" height="3" fill="#000"/>
<rect x="962" y="728" width="1" height="3" fill="#000"/>
<rect x="1058" y="728" width="1" height="3" fill="#000"/>
<rect x="1154" y="728" width="1" height="3" fill="#000"/>
<rect x="1250" y="728" width="1" height="3" fill="#000"/><text x="1203" y="244" font-size="33.5" fill="#ff2200" font-family="&quot;Liberation Sans&quot;, &quot;Noto Sans CJK SC&quot;, sans-serif" shape-rendering="auto" textLength="241.9" lengthAdjust="spacing">多空转折点3058</text></svg>
<div class="t" style="left:1637px;top:67px;letter-spacing:.25px">3447.0</div><div class="t" style="left:1637px;top:116px;letter-spacing:.25px">3393.0</div><div class="t" style="left:1637px;top:165px;letter-spacing:.25px">3339.0</div><div class="t" style="left:1637px;top:214px;letter-spacing:.25px">3285.0</div><div class="t" style="left:1637px;top:263px;letter-spacing:.25px">3231.0</div><div class="t" style="left:1637px;top:312px;letter-spacing:.25px">3177.0</div><div class="t" style="left:1637px;top:361px;letter-spacing:.25px">3123.0</div><div class="t" style="left:1637px;top:410px;letter-spacing:.25px">3068.0</div><div class="t" style="left:1637px;top:459px;letter-spacing:.25px">3014.0</div><div class="t" style="left:1637px;top:508px;letter-spacing:.25px">2960.0</div><div class="pl" style="top:141px;background:#ff0000">3365.0</div><div class="pl" style="top:302px;background:#ff0000">3187.5</div><div class="pl" style="top:360px;background:#ff0000">3123.5</div><div class="pl" style="top:419px;background:#00ff7f">3058.6</div><div class="pl" style="top:456px;background:#000000">3017.2</div><div class="pl" style="top:471px;background:#0000ff">3001.6</div><div class="t" style="left:1635px;top:539px;letter-spacing:.25px">51</div><div class="t" style="left:1635px;top:557px;letter-spacing:.25px">0.00</div><div class="t" style="left:1635px;top:583px;letter-spacing:.25px">-63.44</div><div class="t" style="left:1635px;top:601px;letter-spacing:.25px">100</div><div class="t" style="left:1635px;top:632px;letter-spacing:.25px">70</div><div class="t" style="left:1635px;top:682px;letter-spacing:.25px">30</div><div class="t" style="left:1635px;top:713px;letter-spacing:.25px">0</div><div class="t" style="left:0px;top:732px;letter-spacing:.15px">24 Aug 2018</div><div class="t" style="left:97px;top:732px;letter-spacing:.15px">3 Sep 06:00</div><div class="t" style="left:193px;top:732px;letter-spacing:.15px">11 Sep 06:00</div><div class="t" style="left:289px;top:732px;letter-spacing:.15px">19 Sep 06:00</div><div class="t" style="left:385px;top:732px;letter-spacing:.15px">28 Sep 06:00</div><div class="t" style="left:481px;top:732px;letter-spacing:.15px">15 Oct 06:00</div><div class="t" style="left:577px;top:732px;letter-spacing:.15px">23 Oct 06:00</div><div class="t" style="left:673px;top:732px;letter-spacing:.15px">31 Oct 06:00</div><div class="t" style="left:769px;top:732px;letter-spacing:.15px">8 Nov 06:00</div><div class="t" style="left:865px;top:732px;letter-spacing:.15px">16 Nov 06:00</div><div class="t" style="left:961px;top:732px;letter-spacing:.15px">26 Nov 06:00</div><div class="t" style="left:1057px;top:732px;letter-spacing:.15px">4 Dec 06:00</div><div class="t" style="left:1153px;top:732px;letter-spacing:.15px">12 Dec 06:00</div><div class="t" style="left:1249px;top:732px;letter-spacing:.15px">20 Dec 06:00</div><div class="t" style="left:20px;top:42px;"><span id="sym" style="display:inline-block;transform-origin:0 0;transform:scaleX(.94)">CHINA300-,H1</span></div><div class="t" style="left:107px;top:42px;"><span id="ohlc" style="letter-spacing:.12px">2998.8 3034.4 2996.4 3017.2</span></div><div class="t" style="left:6px;top:540px;letter-spacing:.08px">MACD(12,26,9) -39.57 -39.34</div><div class="t" style="left:6px;top:603px;letter-spacing:.12px">RSI(14) 40.0700</div>

<div id="pn" style="position:absolute;left:5px;top:61px;width:283px;height:76px;background:#fff;">
<svg style="position:absolute;left:0;top:0" width="283" height="76" shape-rendering="crispEdges">
 <defs><linearGradient id="rg" x1="0" y1="0" x2="0" y2="1"><stop offset="0" stop-color="#f85050"/><stop offset=".2" stop-color="#ec3d3d"/><stop offset=".36" stop-color="#e03131"/><stop offset=".52" stop-color="#d62626"/><stop offset=".75" stop-color="#c41212"/><stop offset="1" stop-color="#b00000"/></linearGradient></defs>
 <path d="M0.5,0.5 H67.5 V27.5 H140.5 V75.5 H0.5 Z" fill="url(#rg)" stroke="#c00a0a"/>
 <path d="M215.5,0.5 H282.5 V75.5 H143.5 V27.5 H215.5 Z" fill="url(#rg)" stroke="#c00a0a"/>
 <rect x="4" y="26" width="60" height="1" fill="#860000"/><rect x="4" y="27" width="60" height="1" fill="#ff8585"/>
 <rect x="219" y="26" width="60" height="1" fill="#860000"/><rect x="219" y="27" width="60" height="1" fill="#ff8585"/>
 <g shape-rendering="auto" fill="#fff"><circle cx="74.8" cy="62.5" r="2.7"/><circle cx="217.3" cy="62.5" r="2.7"/></g>
</svg>
 <div class="tab" style="left:0;width:67px;"><span style="transform:scaleX(.89)">SELL</span></div>
 <div class="tab" style="left:215px;width:68px;"><span style="transform:scaleX(.92)">BUY</span></div>
 <div class="box" style="left:0;width:141px;"><b style="left:30px">3015</b><u style="left:78px">7</u></div>
 <div class="box" style="left:143px;width:140px;"><b style="left:29px">3021</b><u style="left:79px">5</u></div>
 <div id="spin"><div class="sb" style="left:1px"><svg width="21" height="21"><defs><linearGradient id="bg" x1="0" y1="0" x2="0" y2="1"><stop offset="0" stop-color="#5e7ee0"/><stop offset="1" stop-color="#2a3a90"/></linearGradient></defs><polygon points="6.8,8.8 14,8.8 10.4,13" fill="url(#bg)"/></svg></div><div class="sb" style="left:119px;width:22px"><svg width="22" height="21"><polygon points="7,12.6 14.6,12.6 10.8,8.4" fill="url(#bg)"/></svg></div><i style="left:23px"></i><i style="left:117px"></i><div id="vol">1.00</div></div>
</div>

<div style="position:absolute;left:0;top:751px;width:1683px;height:1px;background:#dddddd"></div>
</body></html>
